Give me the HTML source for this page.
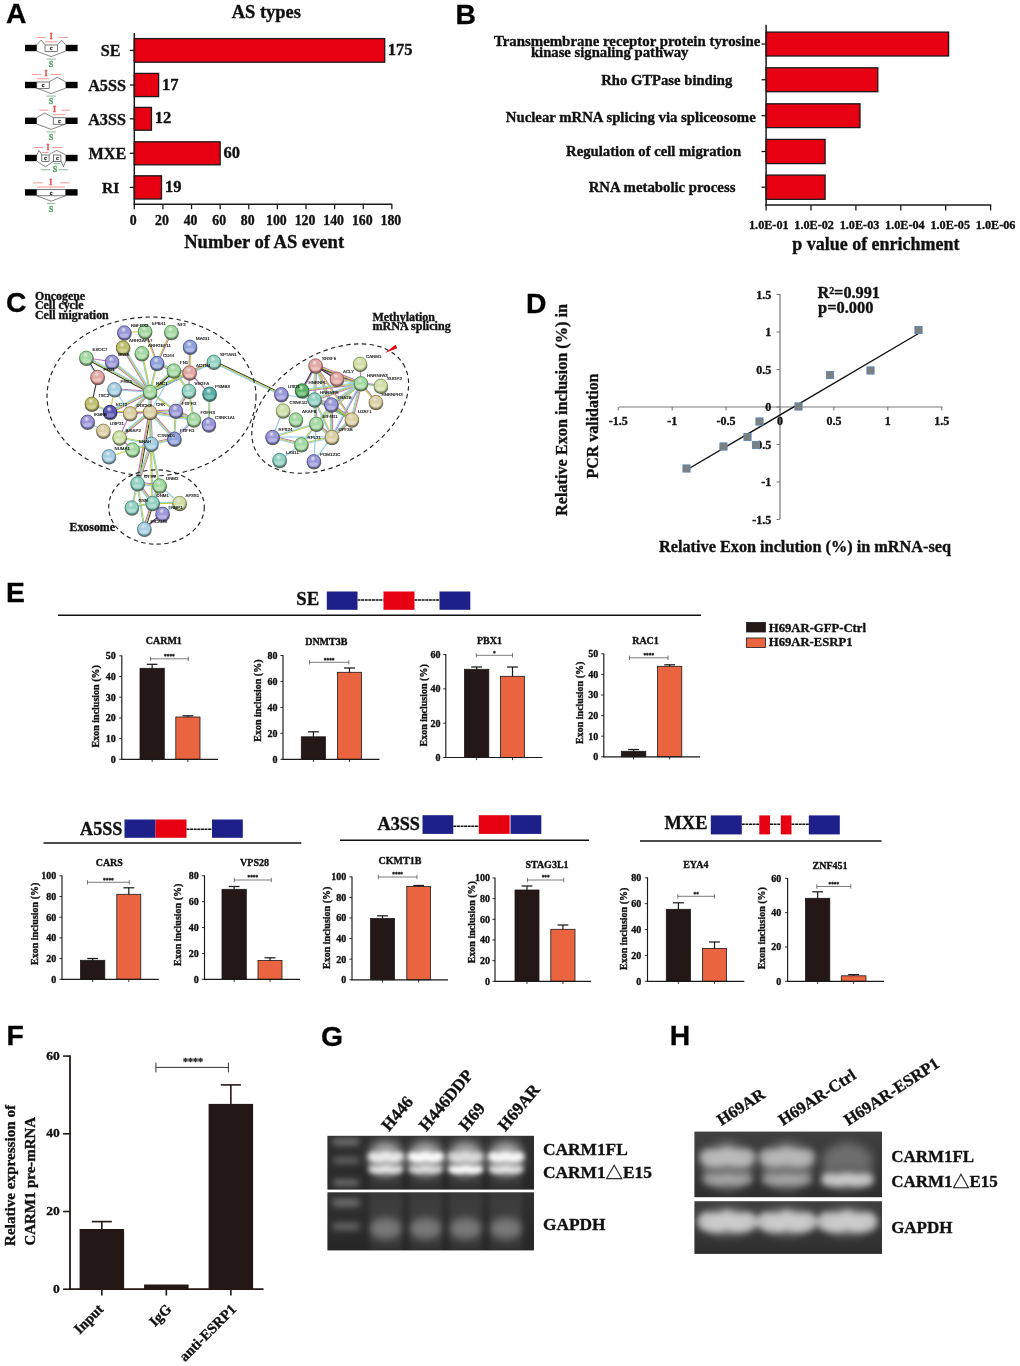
<!DOCTYPE html>
<html lang="en">
<head>
<meta charset="utf-8">
<title>Figure</title>
<style>
html,body{margin:0;padding:0;background:#fff;}
body{width:1020px;height:1366px;overflow:hidden;}
svg{display:block;}
.sb{font-family:"Liberation Serif",serif;font-weight:bold;fill:#111;stroke:#111;stroke-width:0.35px;stroke-linejoin:round;}
.pl{font-family:"Liberation Sans",sans-serif;font-weight:bold;fill:#000;stroke:#000;stroke-width:0.3px;}
.nl{font-family:"Liberation Sans",sans-serif;fill:#000;stroke:#000;stroke-width:0.12px;text-rendering:geometricPrecision;}
.tri{font-family:"Liberation Serif","Noto Sans CJK SC",serif;font-weight:normal;}
</style>
</head>
<body>
<svg width="1020" height="1366" viewBox="0 0 1020 1366">
<rect x="0" y="0" width="1020" height="1366" fill="#ffffff"/>
<text class="pl" x="6" y="23.4" font-size="28.3">A</text>
<text class="pl" x="455.4" y="23.5" font-size="28.3">B</text>
<text class="pl" x="6" y="312.4" font-size="28.3">C</text>
<text class="pl" x="526" y="312.5" font-size="28.3">D</text>
<text class="pl" x="6" y="601.6" font-size="28.3">E</text>
<text class="pl" x="6.6" y="1045.1" font-size="28.3">F</text>
<text class="pl" x="321" y="1045.6" font-size="28.3">G</text>
<text class="pl" x="669.8" y="1045.3" font-size="28.3">H</text>
<g id="panelA">
<text class="sb" x="231.8" y="17.6" font-size="18.43">AS types</text>
<rect x="134.3" y="38.6" width="250.4" height="23.6" fill="#e60012" stroke="#1a1a1a" stroke-width="1.3"/>
<line x1="129.8" y1="50.4" x2="134.3" y2="50.4" stroke="#1a1a1a" stroke-width="1.3"/>
<text class="sb" x="100.7" y="56.1" font-size="16.16">SE</text>
<text class="sb" x="387.8" y="55" font-size="16.5">175</text>
<rect x="134.3" y="73.4" width="24.32" height="23.2" fill="#e60012" stroke="#1a1a1a" stroke-width="1.3"/>
<line x1="129.8" y1="85" x2="134.3" y2="85" stroke="#1a1a1a" stroke-width="1.3"/>
<text class="sb" x="88.2" y="90.7" font-size="16.15">A5SS</text>
<text class="sb" x="162.02" y="89.6" font-size="16.5">17</text>
<rect x="134.3" y="107.4" width="17.17" height="22.8" fill="#e60012" stroke="#1a1a1a" stroke-width="1.3"/>
<line x1="129.8" y1="118.8" x2="134.3" y2="118.8" stroke="#1a1a1a" stroke-width="1.3"/>
<text class="sb" x="88.2" y="124.5" font-size="16.15">A3SS</text>
<text class="sb" x="154.87" y="123.4" font-size="16.5">12</text>
<rect x="134.3" y="141.8" width="85.85" height="23" fill="#e60012" stroke="#1a1a1a" stroke-width="1.3"/>
<line x1="129.8" y1="153.3" x2="134.3" y2="153.3" stroke="#1a1a1a" stroke-width="1.3"/>
<text class="sb" x="88.4" y="159" font-size="16.23">MXE</text>
<text class="sb" x="223.55" y="157.9" font-size="16.5">60</text>
<rect x="134.3" y="175.8" width="27.19" height="23.2" fill="#e60012" stroke="#1a1a1a" stroke-width="1.3"/>
<line x1="129.8" y1="187.4" x2="134.3" y2="187.4" stroke="#1a1a1a" stroke-width="1.3"/>
<text class="sb" x="102" y="193.1" font-size="15.5">RI</text>
<text class="sb" x="164.89" y="192" font-size="16.5">19</text>
<line x1="134.3" y1="33" x2="134.3" y2="204.9" stroke="#1a1a1a" stroke-width="1.5"/>
<line x1="133.6" y1="204.2" x2="392.2" y2="204.2" stroke="#1a1a1a" stroke-width="1.5"/>
<line x1="134.3" y1="204.2" x2="134.3" y2="209.2" stroke="#1a1a1a" stroke-width="1.3"/>
<text class="sb" x="133.3" y="225" font-size="13.8" text-anchor="middle">0</text>
<line x1="162.92" y1="204.2" x2="162.92" y2="209.2" stroke="#1a1a1a" stroke-width="1.3"/>
<text class="sb" x="161.92" y="225" font-size="13.8" text-anchor="middle">20</text>
<line x1="191.53" y1="204.2" x2="191.53" y2="209.2" stroke="#1a1a1a" stroke-width="1.3"/>
<text class="sb" x="190.53" y="225" font-size="13.8" text-anchor="middle">40</text>
<line x1="220.15" y1="204.2" x2="220.15" y2="209.2" stroke="#1a1a1a" stroke-width="1.3"/>
<text class="sb" x="219.15" y="225" font-size="13.8" text-anchor="middle">60</text>
<line x1="248.77" y1="204.2" x2="248.77" y2="209.2" stroke="#1a1a1a" stroke-width="1.3"/>
<text class="sb" x="247.77" y="225" font-size="13.8" text-anchor="middle">80</text>
<line x1="277.39" y1="204.2" x2="277.39" y2="209.2" stroke="#1a1a1a" stroke-width="1.3"/>
<text class="sb" x="276.39" y="225" font-size="13.8" text-anchor="middle">100</text>
<line x1="306" y1="204.2" x2="306" y2="209.2" stroke="#1a1a1a" stroke-width="1.3"/>
<text class="sb" x="305" y="225" font-size="13.8" text-anchor="middle">120</text>
<line x1="334.62" y1="204.2" x2="334.62" y2="209.2" stroke="#1a1a1a" stroke-width="1.3"/>
<text class="sb" x="333.62" y="225" font-size="13.8" text-anchor="middle">140</text>
<line x1="363.24" y1="204.2" x2="363.24" y2="209.2" stroke="#1a1a1a" stroke-width="1.3"/>
<text class="sb" x="362.24" y="225" font-size="13.8" text-anchor="middle">160</text>
<line x1="391.85" y1="204.2" x2="391.85" y2="209.2" stroke="#1a1a1a" stroke-width="1.3"/>
<text class="sb" x="390.85" y="225" font-size="13.8" text-anchor="middle">180</text>
<text class="sb" x="184.2" y="247.6" font-size="18.56">Number of AS event</text>
<rect x="25" y="44.8" width="11.8" height="6.4" fill="#000"/>
<rect x="65.6" y="44.8" width="12" height="6.4" fill="#000"/>
<path d="M36.8 44.8 L41.1 40.2 L45 44.8 M57.4 44.8 L61.6 40.2 L65.6 44.8" fill="none" stroke="#333" stroke-width="0.6"/>
<path d="M36.8 51.2 L51.2 56.6 L65.6 51.2" fill="none" stroke="#333" stroke-width="0.6"/>
<rect x="45" y="45" width="12.4" height="6.6" fill="#fff" stroke="#222" stroke-width="0.6"/>
<text class="sb" x="51.2" y="50.2" font-size="6" text-anchor="middle" style="fill:#333;stroke:#333">c</text>
<line x1="36.5" y1="37.4" x2="45.8" y2="37.4" stroke="#e8524a" stroke-width="0.6"/>
<line x1="58.6" y1="37.4" x2="68.2" y2="37.4" stroke="#e8524a" stroke-width="0.6"/>
<line x1="45" y1="41.8" x2="57.4" y2="41.8" stroke="#e8524a" stroke-width="0.6"/>
<text class="sb" x="51.2" y="39.4" font-size="7.8" text-anchor="middle" style="fill:#e8524a;stroke:#e8524a">I</text>
<line x1="46.5" y1="59.1" x2="55.9" y2="59.1" stroke="#4aa564" stroke-width="0.7"/>
<text class="sb" x="51.2" y="67.4" font-size="7.5" text-anchor="middle" style="fill:#4aa564;stroke:#4aa564">S</text>
<rect x="25" y="81.8" width="11.8" height="6.4" fill="#000"/>
<rect x="65.6" y="81.8" width="12" height="6.4" fill="#000"/>
<path d="M49.2 81.8 L57.2 77.2 L65.6 81.8" fill="none" stroke="#333" stroke-width="0.6"/>
<path d="M36.8 88.2 L51.2 93.6 L65.6 88.2" fill="none" stroke="#333" stroke-width="0.6"/>
<rect x="36.8" y="82" width="12.4" height="6.4" fill="#fff" stroke="#222" stroke-width="0.6"/>
<text class="sb" x="43" y="87.2" font-size="6" text-anchor="middle" style="fill:#333;stroke:#333">c</text>
<line x1="31.8" y1="74.4" x2="41" y2="74.4" stroke="#e8524a" stroke-width="0.6"/>
<line x1="50.8" y1="74.4" x2="60.6" y2="74.4" stroke="#e8524a" stroke-width="0.6"/>
<line x1="36.8" y1="78.8" x2="49.2" y2="78.8" stroke="#e8524a" stroke-width="0.6"/>
<text class="sb" x="46" y="76.4" font-size="7.8" text-anchor="middle" style="fill:#e8524a;stroke:#e8524a">I</text>
<line x1="46.5" y1="96.1" x2="55.9" y2="96.1" stroke="#4aa564" stroke-width="0.7"/>
<text class="sb" x="51.2" y="104.4" font-size="7.5" text-anchor="middle" style="fill:#4aa564;stroke:#4aa564">S</text>
<rect x="25" y="117.6" width="11.8" height="6.4" fill="#000"/>
<rect x="65.6" y="117.6" width="12" height="6.4" fill="#000"/>
<path d="M36.8 117.6 L44.8 113 L53.2 117.6" fill="none" stroke="#333" stroke-width="0.6"/>
<path d="M36.8 124 L51.2 129.4 L65.6 124" fill="none" stroke="#333" stroke-width="0.6"/>
<rect x="53.2" y="117.8" width="12.4" height="6.4" fill="#fff" stroke="#222" stroke-width="0.6"/>
<text class="sb" x="59.4" y="123" font-size="6" text-anchor="middle" style="fill:#333;stroke:#333">c</text>
<line x1="39.4" y1="110.2" x2="48.6" y2="110.2" stroke="#e8524a" stroke-width="0.6"/>
<line x1="61.2" y1="110.2" x2="70.4" y2="110.2" stroke="#e8524a" stroke-width="0.6"/>
<line x1="53.2" y1="114.6" x2="65.6" y2="114.6" stroke="#e8524a" stroke-width="0.6"/>
<text class="sb" x="54.6" y="112.2" font-size="7.8" text-anchor="middle" style="fill:#e8524a;stroke:#e8524a">I</text>
<line x1="46.5" y1="131.9" x2="55.9" y2="131.9" stroke="#4aa564" stroke-width="0.7"/>
<text class="sb" x="51.2" y="140.2" font-size="7.5" text-anchor="middle" style="fill:#4aa564;stroke:#4aa564">S</text>
<rect x="25" y="154.8" width="11.8" height="6.4" fill="#000"/>
<rect x="65.6" y="154.8" width="12" height="6.4" fill="#000"/>
<path d="M36.8 154.8 L39.1 150.5 L41.8 154.8 M49.1 154.5 L56.8 150.3 L65.6 154.8" fill="none" stroke="#333" stroke-width="0.6"/>
<path d="M36.8 161.2 L45.4 166.8 L53.6 161.2 M60.9 161.2 L63.5 166.6 L65.6 160.9" fill="none" stroke="#333" stroke-width="0.6"/>
<rect x="41.8" y="155" width="7.3" height="6.4" fill="#fff" stroke="#222" stroke-width="0.6"/>
<rect x="53.6" y="155" width="7.3" height="6.4" fill="#fff" stroke="#222" stroke-width="0.6"/>
<text class="sb" x="45.45" y="160.2" font-size="6" text-anchor="middle" style="fill:#333;stroke:#333">c</text>
<text class="sb" x="57.25" y="160.2" font-size="6" text-anchor="middle" style="fill:#333;stroke:#333">c</text>
<line x1="33.6" y1="147.5" x2="43.2" y2="147.5" stroke="#e8524a" stroke-width="0.6"/>
<line x1="52.6" y1="147.5" x2="62.3" y2="147.5" stroke="#e8524a" stroke-width="0.6"/>
<line x1="42.2" y1="152.5" x2="48.6" y2="152.5" stroke="#e8524a" stroke-width="0.6"/>
<text class="sb" x="47.9" y="149.9" font-size="7.6" text-anchor="middle" style="fill:#e8524a;stroke:#e8524a">I</text>
<line x1="53.6" y1="163.7" x2="60.4" y2="163.7" stroke="#4aa564" stroke-width="0.7"/>
<line x1="40.6" y1="169.8" x2="50" y2="169.8" stroke="#4aa564" stroke-width="0.7"/>
<line x1="58.5" y1="169.8" x2="68.2" y2="169.8" stroke="#4aa564" stroke-width="0.7"/>
<text class="sb" x="55" y="172" font-size="7.5" text-anchor="middle" style="fill:#4aa564;stroke:#4aa564">S</text>
<rect x="25" y="189.2" width="11.8" height="6.4" fill="#000"/>
<rect x="65.6" y="189.2" width="12" height="6.4" fill="#000"/>
<rect x="36.8" y="189.4" width="28.8" height="6.4" fill="#fff" stroke="#222" stroke-width="0.6"/>
<path d="M36.8 195.8 L51.2 201.2 L65.6 195.8" fill="none" stroke="#333" stroke-width="0.6"/>
<text class="sb" x="51.2" y="194.6" font-size="6" text-anchor="middle" style="fill:#333;stroke:#333">c</text>
<line x1="33.2" y1="182.8" x2="42.4" y2="182.8" stroke="#e8524a" stroke-width="0.6"/>
<line x1="60.2" y1="182.8" x2="69.8" y2="182.8" stroke="#e8524a" stroke-width="0.6"/>
<line x1="37.4" y1="187" x2="65.2" y2="187" stroke="#e8524a" stroke-width="0.6"/>
<text class="sb" x="50.8" y="185" font-size="7.8" text-anchor="middle" style="fill:#e8524a;stroke:#e8524a">I</text>
<line x1="47.2" y1="203.6" x2="55.2" y2="203.6" stroke="#4aa564" stroke-width="0.7"/>
<text class="sb" x="51.2" y="211.6" font-size="7.5" text-anchor="middle" style="fill:#4aa564;stroke:#4aa564">S</text>
</g>
<g id="panelB">
<rect x="766.1" y="32.1" width="182.5" height="23.9" fill="#e60012" stroke="#1a1a1a" stroke-width="1.3"/>
<line x1="761.5" y1="44.05" x2="766.1" y2="44.05" stroke="#1a1a1a" stroke-width="1.3"/>
<rect x="766.1" y="67.8" width="111.7" height="23.9" fill="#e60012" stroke="#1a1a1a" stroke-width="1.3"/>
<line x1="761.5" y1="79.75" x2="766.1" y2="79.75" stroke="#1a1a1a" stroke-width="1.3"/>
<rect x="766.1" y="103.8" width="93.9" height="23.8" fill="#e60012" stroke="#1a1a1a" stroke-width="1.3"/>
<line x1="761.5" y1="115.7" x2="766.1" y2="115.7" stroke="#1a1a1a" stroke-width="1.3"/>
<rect x="766.1" y="139.4" width="59" height="24.2" fill="#e60012" stroke="#1a1a1a" stroke-width="1.3"/>
<line x1="761.5" y1="151.5" x2="766.1" y2="151.5" stroke="#1a1a1a" stroke-width="1.3"/>
<rect x="766.1" y="175.1" width="59" height="24.2" fill="#e60012" stroke="#1a1a1a" stroke-width="1.3"/>
<line x1="761.5" y1="187.2" x2="766.1" y2="187.2" stroke="#1a1a1a" stroke-width="1.3"/>
<line x1="766.1" y1="24.7" x2="766.1" y2="205.7" stroke="#1a1a1a" stroke-width="1.5"/>
<line x1="765.4" y1="205" x2="991.2" y2="205" stroke="#1a1a1a" stroke-width="1.5"/>
<line x1="766.1" y1="205" x2="766.1" y2="210.4" stroke="#1a1a1a" stroke-width="1.3"/>
<text class="sb" x="768.8" y="229" font-size="12.2" text-anchor="middle">1.0E-01</text>
<line x1="811" y1="205" x2="811" y2="210.4" stroke="#1a1a1a" stroke-width="1.3"/>
<text class="sb" x="814.16" y="229" font-size="12.2" text-anchor="middle">1.0E-02</text>
<line x1="855.9" y1="205" x2="855.9" y2="210.4" stroke="#1a1a1a" stroke-width="1.3"/>
<text class="sb" x="859.52" y="229" font-size="12.2" text-anchor="middle">1.0E-03</text>
<line x1="900.8" y1="205" x2="900.8" y2="210.4" stroke="#1a1a1a" stroke-width="1.3"/>
<text class="sb" x="904.88" y="229" font-size="12.2" text-anchor="middle">1.0E-04</text>
<line x1="945.7" y1="205" x2="945.7" y2="210.4" stroke="#1a1a1a" stroke-width="1.3"/>
<text class="sb" x="950.24" y="229" font-size="12.2" text-anchor="middle">1.0E-05</text>
<line x1="990.6" y1="205" x2="990.6" y2="210.4" stroke="#1a1a1a" stroke-width="1.3"/>
<text class="sb" x="995.6" y="229" font-size="12.2" text-anchor="middle">1.0E-06</text>
<text class="sb" x="792.2" y="250" font-size="17.99">p value of enrichment</text>
<text class="sb" x="493.9" y="45.5" font-size="14.87">Transmembrane receptor protein tyrosine</text>
<text class="sb" x="530.9" y="56.5" font-size="14.69">kinase signaling pathway</text>
<text class="sb" x="601.2" y="85.3" font-size="14.67">Rho GTPase binding</text>
<text class="sb" x="505.8" y="121.7" font-size="14.78">Nuclear mRNA splicing via spliceosome</text>
<text class="sb" x="566.1" y="156.2" font-size="14.69">Regulation of cell migration</text>
<text class="sb" x="588.7" y="192.3" font-size="14.79">RNA metabolic process</text>
</g>
<g id="panelD">
<line x1="780" y1="294" x2="780" y2="519" stroke="#7a7a7a" stroke-width="1.2"/>
<line x1="619" y1="407" x2="942.5" y2="407" stroke="#7a7a7a" stroke-width="1.2"/>
<line x1="618.3" y1="407" x2="618.3" y2="410.5" stroke="#7a7a7a" stroke-width="1.1"/>
<line x1="776.5" y1="519.5" x2="780" y2="519.5" stroke="#7a7a7a" stroke-width="1.1"/>
<text class="sb" x="618.3" y="425.3" font-size="12" text-anchor="middle">-1.5</text>
<text class="sb" x="771.3" y="523.7" font-size="12" text-anchor="end">-1.5</text>
<line x1="672.2" y1="407" x2="672.2" y2="410.5" stroke="#7a7a7a" stroke-width="1.1"/>
<line x1="776.5" y1="482" x2="780" y2="482" stroke="#7a7a7a" stroke-width="1.1"/>
<text class="sb" x="672.2" y="425.3" font-size="12" text-anchor="middle">-1</text>
<text class="sb" x="771.3" y="486.2" font-size="12" text-anchor="end">-1</text>
<line x1="726.1" y1="407" x2="726.1" y2="410.5" stroke="#7a7a7a" stroke-width="1.1"/>
<line x1="776.5" y1="444.5" x2="780" y2="444.5" stroke="#7a7a7a" stroke-width="1.1"/>
<text class="sb" x="726.1" y="425.3" font-size="12" text-anchor="middle">-0.5</text>
<text class="sb" x="771.3" y="448.7" font-size="12" text-anchor="end">-0.5</text>
<line x1="780" y1="407" x2="780" y2="410.5" stroke="#7a7a7a" stroke-width="1.1"/>
<line x1="776.5" y1="407" x2="780" y2="407" stroke="#7a7a7a" stroke-width="1.1"/>
<text class="sb" x="780" y="425.3" font-size="12" text-anchor="middle">0</text>
<text class="sb" x="771.3" y="411.2" font-size="12" text-anchor="end">0</text>
<line x1="833.9" y1="407" x2="833.9" y2="410.5" stroke="#7a7a7a" stroke-width="1.1"/>
<line x1="776.5" y1="369.5" x2="780" y2="369.5" stroke="#7a7a7a" stroke-width="1.1"/>
<text class="sb" x="833.9" y="425.3" font-size="12" text-anchor="middle">0.5</text>
<text class="sb" x="771.3" y="373.7" font-size="12" text-anchor="end">0.5</text>
<line x1="887.8" y1="407" x2="887.8" y2="410.5" stroke="#7a7a7a" stroke-width="1.1"/>
<line x1="776.5" y1="332" x2="780" y2="332" stroke="#7a7a7a" stroke-width="1.1"/>
<text class="sb" x="887.8" y="425.3" font-size="12" text-anchor="middle">1</text>
<text class="sb" x="771.3" y="336.2" font-size="12" text-anchor="end">1</text>
<line x1="941.7" y1="407" x2="941.7" y2="410.5" stroke="#7a7a7a" stroke-width="1.1"/>
<line x1="776.5" y1="294.5" x2="780" y2="294.5" stroke="#7a7a7a" stroke-width="1.1"/>
<text class="sb" x="941.7" y="425.3" font-size="12" text-anchor="middle">1.5</text>
<text class="sb" x="771.3" y="298.7" font-size="12" text-anchor="end">1.5</text>
<line x1="686.5" y1="470" x2="918.5" y2="333.5" stroke="#111" stroke-width="1.4"/>
<rect x="682.9" y="464.9" width="7.2" height="7.2" fill="#7f7f7f" stroke="#5b87b8" stroke-width="0.9"/>
<rect x="719.9" y="442.9" width="7.2" height="7.2" fill="#7f7f7f" stroke="#5b87b8" stroke-width="0.9"/>
<rect x="743.9" y="433.4" width="7.2" height="7.2" fill="#7f7f7f" stroke="#5b87b8" stroke-width="0.9"/>
<rect x="752.4" y="441.4" width="7.2" height="7.2" fill="#7f7f7f" stroke="#5b87b8" stroke-width="0.9"/>
<rect x="755.9" y="417.9" width="7.2" height="7.2" fill="#7f7f7f" stroke="#5b87b8" stroke-width="0.9"/>
<rect x="794.9" y="402.9" width="7.2" height="7.2" fill="#7f7f7f" stroke="#5b87b8" stroke-width="0.9"/>
<rect x="826.4" y="371.4" width="7.2" height="7.2" fill="#7f7f7f" stroke="#5b87b8" stroke-width="0.9"/>
<rect x="866.9" y="366.9" width="7.2" height="7.2" fill="#7f7f7f" stroke="#5b87b8" stroke-width="0.9"/>
<rect x="914.9" y="326.4" width="7.2" height="7.2" fill="#7f7f7f" stroke="#5b87b8" stroke-width="0.9"/>
<text class="sb" x="817.5" y="297.6" font-size="16.28">R²=0.991</text>
<text class="sb" x="818" y="312.6" font-size="16.44">p=0.000</text>
<text class="sb" x="659" y="552.4" font-size="16.25">Relative Exon inclution (%) in mRNA-seq</text>
<text class="sb" x="567" y="410" font-size="16.24" text-anchor="middle" transform="rotate(-90 567 410)">Relative Exon inclusion (%) in</text>
<text class="sb" x="598" y="426" font-size="15.95" text-anchor="middle" transform="rotate(-90 598 426)">PCR validation</text>
</g>
<g id="panelE">
<text class="sb" x="296.3" y="604.5" font-size="18.78">SE</text>
<line x1="357.5" y1="600" x2="383.5" y2="600" stroke="#111" stroke-width="1.4" stroke-dasharray="3 0.6"/>
<line x1="414.5" y1="600" x2="439.5" y2="600" stroke="#111" stroke-width="1.4" stroke-dasharray="3 0.6"/>
<rect x="326.8" y="591.5" width="30.7" height="18.3" fill="#1d2088"/>
<rect x="383.5" y="591.5" width="31" height="18.3" fill="#e60012"/>
<rect x="439.5" y="591.5" width="30.8" height="18.3" fill="#1d2088"/>
<line x1="58" y1="615.3" x2="701" y2="615.3" stroke="#111" stroke-width="1.5"/>
<text class="sb" x="80" y="834.5" font-size="18.2">A5SS</text>
<line x1="186.5" y1="829.3" x2="212" y2="829.3" stroke="#111" stroke-width="1.4" stroke-dasharray="3 0.6"/>
<rect x="124.5" y="819.5" width="31" height="18.3" fill="#1d2088"/>
<rect x="155.5" y="819.5" width="31" height="18.3" fill="#e60012"/>
<rect x="212" y="819.5" width="30.8" height="18.3" fill="#1d2088"/>
<line x1="43.5" y1="843" x2="301.3" y2="843" stroke="#111" stroke-width="1.5"/>
<text class="sb" x="377.5" y="830" font-size="18.2">A3SS</text>
<line x1="453.3" y1="826.3" x2="478.8" y2="826.3" stroke="#111" stroke-width="1.4" stroke-dasharray="3 0.6"/>
<rect x="422.5" y="815.2" width="30.8" height="18.7" fill="#1d2088"/>
<rect x="478.8" y="815.2" width="30.9" height="18.7" fill="#e60012"/>
<rect x="510.5" y="815.2" width="30.8" height="18.7" fill="#1d2088"/>
<line x1="340" y1="840.3" x2="589" y2="840.3" stroke="#111" stroke-width="1.5"/>
<text class="sb" x="664.5" y="829.3" font-size="18.42">MXE</text>
<line x1="741.8" y1="824.3" x2="759.3" y2="824.3" stroke="#111" stroke-width="1.4" stroke-dasharray="3 0.6"/>
<line x1="770" y1="824.3" x2="780.8" y2="824.3" stroke="#111" stroke-width="1.4" stroke-dasharray="3 0.6"/>
<line x1="791.5" y1="824.3" x2="808.8" y2="824.3" stroke="#111" stroke-width="1.4" stroke-dasharray="3 0.6"/>
<rect x="710.8" y="815.4" width="31" height="19" fill="#1d2088"/>
<rect x="759.3" y="815.4" width="10.7" height="19" fill="#e60012"/>
<rect x="780.8" y="815.4" width="10.7" height="19" fill="#e60012"/>
<rect x="808.8" y="815.4" width="31" height="19" fill="#1d2088"/>
<line x1="640" y1="841" x2="881.5" y2="841" stroke="#111" stroke-width="1.5"/>
<text class="sb" x="163.8" y="644.3" font-size="10" text-anchor="middle">CARM1</text>
<line x1="152.15" y1="664.3" x2="152.15" y2="669.3" stroke="#1a1a1a" stroke-width="1.2"/>
<line x1="146.75" y1="664.3" x2="157.55" y2="664.3" stroke="#1a1a1a" stroke-width="1.25"/>
<rect x="140" y="668.3" width="24.3" height="91" fill="#231815" stroke="#1a1a1a" stroke-width="0.8"/>
<line x1="152.15" y1="759.3" x2="152.15" y2="761.9" stroke="#1a1a1a" stroke-width="0.9"/>
<line x1="187.9" y1="715.8" x2="187.9" y2="718" stroke="#1a1a1a" stroke-width="1.2"/>
<line x1="182.5" y1="715.8" x2="193.3" y2="715.8" stroke="#1a1a1a" stroke-width="1.25"/>
<rect x="175.8" y="717" width="24.2" height="42.3" fill="#e9643f" stroke="#1a1a1a" stroke-width="0.8"/>
<line x1="187.9" y1="759.3" x2="187.9" y2="761.9" stroke="#1a1a1a" stroke-width="0.9"/>
<line x1="121.8" y1="655.4" x2="121.8" y2="759.8" stroke="#1a1a1a" stroke-width="1.15"/>
<line x1="121.3" y1="759.3" x2="218" y2="759.3" stroke="#1a1a1a" stroke-width="1.15"/>
<line x1="119.2" y1="759.3" x2="121.8" y2="759.3" stroke="#1a1a1a" stroke-width="0.9"/>
<text class="sb" x="115.8" y="762.7" font-size="10" text-anchor="end">0</text>
<line x1="119.2" y1="738.6" x2="121.8" y2="738.6" stroke="#1a1a1a" stroke-width="0.9"/>
<text class="sb" x="115.8" y="742" font-size="10" text-anchor="end">10</text>
<line x1="119.2" y1="717.9" x2="121.8" y2="717.9" stroke="#1a1a1a" stroke-width="0.9"/>
<text class="sb" x="115.8" y="721.3" font-size="10" text-anchor="end">20</text>
<line x1="119.2" y1="697.2" x2="121.8" y2="697.2" stroke="#1a1a1a" stroke-width="0.9"/>
<text class="sb" x="115.8" y="700.6" font-size="10" text-anchor="end">30</text>
<line x1="119.2" y1="676.5" x2="121.8" y2="676.5" stroke="#1a1a1a" stroke-width="0.9"/>
<text class="sb" x="115.8" y="679.9" font-size="10" text-anchor="end">40</text>
<line x1="119.2" y1="655.8" x2="121.8" y2="655.8" stroke="#1a1a1a" stroke-width="0.9"/>
<text class="sb" x="115.8" y="659.2" font-size="10" text-anchor="end">50</text>
<line x1="150.5" y1="658.8" x2="188.3" y2="658.8" stroke="#444" stroke-width="0.7"/>
<line x1="150.5" y1="656.6" x2="150.5" y2="661" stroke="#444" stroke-width="0.7"/>
<line x1="188.3" y1="656.6" x2="188.3" y2="661" stroke="#444" stroke-width="0.7"/>
<text class="sb" x="169.4" y="658.1" font-size="5.3" text-anchor="middle" style="fill:#222;stroke:#222">****</text>
<text class="sb" x="99" y="706.3" font-size="10" text-anchor="middle" transform="rotate(-90 99 706.3)">Exon inclusion (%)</text>
<text class="sb" x="326.3" y="645" font-size="10" text-anchor="middle">DNMT3B</text>
<line x1="313.4" y1="731.8" x2="313.4" y2="737.8" stroke="#1a1a1a" stroke-width="1.2"/>
<line x1="308" y1="731.8" x2="318.8" y2="731.8" stroke="#1a1a1a" stroke-width="1.25"/>
<rect x="301.3" y="736.8" width="24.2" height="22.5" fill="#231815" stroke="#1a1a1a" stroke-width="0.8"/>
<line x1="313.4" y1="759.3" x2="313.4" y2="761.9" stroke="#1a1a1a" stroke-width="0.9"/>
<line x1="349.5" y1="668" x2="349.5" y2="673.3" stroke="#1a1a1a" stroke-width="1.2"/>
<line x1="344.1" y1="668" x2="354.9" y2="668" stroke="#1a1a1a" stroke-width="1.25"/>
<rect x="337.5" y="672.3" width="24" height="87" fill="#e9643f" stroke="#1a1a1a" stroke-width="0.8"/>
<line x1="349.5" y1="759.3" x2="349.5" y2="761.9" stroke="#1a1a1a" stroke-width="0.9"/>
<line x1="283" y1="655.1" x2="283" y2="759.8" stroke="#1a1a1a" stroke-width="1.15"/>
<line x1="282.5" y1="759.3" x2="379.5" y2="759.3" stroke="#1a1a1a" stroke-width="1.15"/>
<line x1="280.4" y1="759.3" x2="283" y2="759.3" stroke="#1a1a1a" stroke-width="0.9"/>
<text class="sb" x="277.5" y="762.7" font-size="10" text-anchor="end">0</text>
<line x1="280.4" y1="733.35" x2="283" y2="733.35" stroke="#1a1a1a" stroke-width="0.9"/>
<text class="sb" x="277.5" y="736.75" font-size="10" text-anchor="end">20</text>
<line x1="280.4" y1="707.4" x2="283" y2="707.4" stroke="#1a1a1a" stroke-width="0.9"/>
<text class="sb" x="277.5" y="710.8" font-size="10" text-anchor="end">40</text>
<line x1="280.4" y1="681.45" x2="283" y2="681.45" stroke="#1a1a1a" stroke-width="0.9"/>
<text class="sb" x="277.5" y="684.85" font-size="10" text-anchor="end">60</text>
<line x1="280.4" y1="655.5" x2="283" y2="655.5" stroke="#1a1a1a" stroke-width="0.9"/>
<text class="sb" x="277.5" y="658.9" font-size="10" text-anchor="end">80</text>
<line x1="309.5" y1="662.3" x2="348.8" y2="662.3" stroke="#444" stroke-width="0.7"/>
<line x1="309.5" y1="660.1" x2="309.5" y2="664.5" stroke="#444" stroke-width="0.7"/>
<line x1="348.8" y1="660.1" x2="348.8" y2="664.5" stroke="#444" stroke-width="0.7"/>
<text class="sb" x="329.15" y="661.6" font-size="5.3" text-anchor="middle" style="fill:#222;stroke:#222">****</text>
<text class="sb" x="261.5" y="700.6" font-size="10" text-anchor="middle" transform="rotate(-90 261.5 700.6)">Exon inclusion (%)</text>
<text class="sb" x="489.5" y="644.3" font-size="10" text-anchor="middle">PBX1</text>
<line x1="476.65" y1="667" x2="476.65" y2="670.3" stroke="#1a1a1a" stroke-width="1.2"/>
<line x1="471.25" y1="667" x2="482.05" y2="667" stroke="#1a1a1a" stroke-width="1.25"/>
<rect x="464.5" y="669.3" width="24.3" height="88.2" fill="#231815" stroke="#1a1a1a" stroke-width="0.8"/>
<line x1="476.65" y1="757.5" x2="476.65" y2="760.1" stroke="#1a1a1a" stroke-width="0.9"/>
<line x1="512.5" y1="667" x2="512.5" y2="677.3" stroke="#1a1a1a" stroke-width="1.2"/>
<line x1="507.1" y1="667" x2="517.9" y2="667" stroke="#1a1a1a" stroke-width="1.25"/>
<rect x="500.5" y="676.3" width="24" height="81.2" fill="#e9643f" stroke="#1a1a1a" stroke-width="0.8"/>
<line x1="512.5" y1="757.5" x2="512.5" y2="760.1" stroke="#1a1a1a" stroke-width="0.9"/>
<line x1="445.8" y1="654.1" x2="445.8" y2="758" stroke="#1a1a1a" stroke-width="1.15"/>
<line x1="445.3" y1="757.5" x2="542.5" y2="757.5" stroke="#1a1a1a" stroke-width="1.15"/>
<line x1="443.2" y1="757.5" x2="445.8" y2="757.5" stroke="#1a1a1a" stroke-width="0.9"/>
<text class="sb" x="440.5" y="760.9" font-size="10" text-anchor="end">0</text>
<line x1="443.2" y1="723.17" x2="445.8" y2="723.17" stroke="#1a1a1a" stroke-width="0.9"/>
<text class="sb" x="440.5" y="726.57" font-size="10" text-anchor="end">20</text>
<line x1="443.2" y1="688.83" x2="445.8" y2="688.83" stroke="#1a1a1a" stroke-width="0.9"/>
<text class="sb" x="440.5" y="692.23" font-size="10" text-anchor="end">40</text>
<line x1="443.2" y1="654.5" x2="445.8" y2="654.5" stroke="#1a1a1a" stroke-width="0.9"/>
<text class="sb" x="440.5" y="657.9" font-size="10" text-anchor="end">60</text>
<line x1="476.3" y1="655.3" x2="512.5" y2="655.3" stroke="#444" stroke-width="0.7"/>
<line x1="476.3" y1="653.1" x2="476.3" y2="657.5" stroke="#444" stroke-width="0.7"/>
<line x1="512.5" y1="653.1" x2="512.5" y2="657.5" stroke="#444" stroke-width="0.7"/>
<text class="sb" x="494.4" y="654.6" font-size="5.3" text-anchor="middle" style="fill:#222;stroke:#222">*</text>
<text class="sb" x="426.8" y="705.4" font-size="10" text-anchor="middle" transform="rotate(-90 426.8 705.4)">Exon inclusion (%)</text>
<text class="sb" x="645.5" y="644.3" font-size="10" text-anchor="middle">RAC1</text>
<line x1="633.55" y1="749.5" x2="633.55" y2="752.3" stroke="#1a1a1a" stroke-width="1.2"/>
<line x1="628.15" y1="749.5" x2="638.95" y2="749.5" stroke="#1a1a1a" stroke-width="1.25"/>
<rect x="621.3" y="751.3" width="24.5" height="5.5" fill="#231815" stroke="#1a1a1a" stroke-width="0.8"/>
<line x1="633.55" y1="756.8" x2="633.55" y2="759.4" stroke="#1a1a1a" stroke-width="0.9"/>
<line x1="669.65" y1="664.8" x2="669.65" y2="667.3" stroke="#1a1a1a" stroke-width="1.2"/>
<line x1="664.25" y1="664.8" x2="675.05" y2="664.8" stroke="#1a1a1a" stroke-width="1.25"/>
<rect x="657.5" y="666.3" width="24.3" height="90.5" fill="#e9643f" stroke="#1a1a1a" stroke-width="0.8"/>
<line x1="669.65" y1="756.8" x2="669.65" y2="759.4" stroke="#1a1a1a" stroke-width="0.9"/>
<line x1="603.8" y1="653.4" x2="603.8" y2="757.3" stroke="#1a1a1a" stroke-width="1.15"/>
<line x1="603.3" y1="756.8" x2="700" y2="756.8" stroke="#1a1a1a" stroke-width="1.15"/>
<line x1="601.2" y1="756.8" x2="603.8" y2="756.8" stroke="#1a1a1a" stroke-width="0.9"/>
<text class="sb" x="598.3" y="760.2" font-size="10" text-anchor="end">0</text>
<line x1="601.2" y1="736.2" x2="603.8" y2="736.2" stroke="#1a1a1a" stroke-width="0.9"/>
<text class="sb" x="598.3" y="739.6" font-size="10" text-anchor="end">10</text>
<line x1="601.2" y1="715.6" x2="603.8" y2="715.6" stroke="#1a1a1a" stroke-width="0.9"/>
<text class="sb" x="598.3" y="719" font-size="10" text-anchor="end">20</text>
<line x1="601.2" y1="695" x2="603.8" y2="695" stroke="#1a1a1a" stroke-width="0.9"/>
<text class="sb" x="598.3" y="698.4" font-size="10" text-anchor="end">30</text>
<line x1="601.2" y1="674.4" x2="603.8" y2="674.4" stroke="#1a1a1a" stroke-width="0.9"/>
<text class="sb" x="598.3" y="677.8" font-size="10" text-anchor="end">40</text>
<line x1="601.2" y1="653.8" x2="603.8" y2="653.8" stroke="#1a1a1a" stroke-width="0.9"/>
<text class="sb" x="598.3" y="657.2" font-size="10" text-anchor="end">50</text>
<line x1="629.5" y1="657.8" x2="668" y2="657.8" stroke="#444" stroke-width="0.7"/>
<line x1="629.5" y1="655.6" x2="629.5" y2="660" stroke="#444" stroke-width="0.7"/>
<line x1="668" y1="655.6" x2="668" y2="660" stroke="#444" stroke-width="0.7"/>
<text class="sb" x="648.75" y="657.1" font-size="5.3" text-anchor="middle" style="fill:#222;stroke:#222">****</text>
<text class="sb" x="583.5" y="702.8" font-size="10" text-anchor="middle" transform="rotate(-90 583.5 702.8)">Exon inclusion (%)</text>
<text class="sb" x="109.3" y="866.3" font-size="10" text-anchor="middle">CARS</text>
<line x1="92.65" y1="958.5" x2="92.65" y2="961.3" stroke="#1a1a1a" stroke-width="1.2"/>
<line x1="87.25" y1="958.5" x2="98.05" y2="958.5" stroke="#1a1a1a" stroke-width="1.25"/>
<rect x="80.5" y="960.3" width="24.3" height="19" fill="#231815" stroke="#1a1a1a" stroke-width="0.8"/>
<line x1="92.65" y1="979.3" x2="92.65" y2="981.9" stroke="#1a1a1a" stroke-width="0.9"/>
<line x1="128.8" y1="887.8" x2="128.8" y2="895.3" stroke="#1a1a1a" stroke-width="1.2"/>
<line x1="123.4" y1="887.8" x2="134.2" y2="887.8" stroke="#1a1a1a" stroke-width="1.25"/>
<rect x="116.8" y="894.3" width="24" height="85" fill="#e9643f" stroke="#1a1a1a" stroke-width="0.8"/>
<line x1="128.8" y1="979.3" x2="128.8" y2="981.9" stroke="#1a1a1a" stroke-width="0.9"/>
<line x1="62" y1="875.4" x2="62" y2="979.8" stroke="#1a1a1a" stroke-width="1.15"/>
<line x1="61.5" y1="979.3" x2="158.8" y2="979.3" stroke="#1a1a1a" stroke-width="1.15"/>
<line x1="59.4" y1="979.3" x2="62" y2="979.3" stroke="#1a1a1a" stroke-width="0.9"/>
<text class="sb" x="56.3" y="982.7" font-size="10" text-anchor="end">0</text>
<line x1="59.4" y1="958.6" x2="62" y2="958.6" stroke="#1a1a1a" stroke-width="0.9"/>
<text class="sb" x="56.3" y="962" font-size="10" text-anchor="end">20</text>
<line x1="59.4" y1="937.9" x2="62" y2="937.9" stroke="#1a1a1a" stroke-width="0.9"/>
<text class="sb" x="56.3" y="941.3" font-size="10" text-anchor="end">40</text>
<line x1="59.4" y1="917.2" x2="62" y2="917.2" stroke="#1a1a1a" stroke-width="0.9"/>
<text class="sb" x="56.3" y="920.6" font-size="10" text-anchor="end">60</text>
<line x1="59.4" y1="896.5" x2="62" y2="896.5" stroke="#1a1a1a" stroke-width="0.9"/>
<text class="sb" x="56.3" y="899.9" font-size="10" text-anchor="end">80</text>
<line x1="59.4" y1="875.8" x2="62" y2="875.8" stroke="#1a1a1a" stroke-width="0.9"/>
<text class="sb" x="56.3" y="879.2" font-size="10" text-anchor="end">100</text>
<line x1="87.5" y1="882.3" x2="129.3" y2="882.3" stroke="#444" stroke-width="0.7"/>
<line x1="87.5" y1="880.1" x2="87.5" y2="884.5" stroke="#444" stroke-width="0.7"/>
<line x1="129.3" y1="880.1" x2="129.3" y2="884.5" stroke="#444" stroke-width="0.7"/>
<text class="sb" x="108.4" y="881.6" font-size="5.3" text-anchor="middle" style="fill:#222;stroke:#222">****</text>
<text class="sb" x="38.5" y="923.8" font-size="10" text-anchor="middle" transform="rotate(-90 38.5 923.8)">Exon inclusion (%)</text>
<text class="sb" x="254.5" y="865.8" font-size="10" text-anchor="middle">VPS28</text>
<line x1="234.15" y1="886.5" x2="234.15" y2="890.3" stroke="#1a1a1a" stroke-width="1.2"/>
<line x1="228.75" y1="886.5" x2="239.55" y2="886.5" stroke="#1a1a1a" stroke-width="1.25"/>
<rect x="222" y="889.3" width="24.3" height="90" fill="#231815" stroke="#1a1a1a" stroke-width="0.8"/>
<line x1="234.15" y1="979.3" x2="234.15" y2="981.9" stroke="#1a1a1a" stroke-width="0.9"/>
<line x1="270" y1="957.8" x2="270" y2="961.5" stroke="#1a1a1a" stroke-width="1.2"/>
<line x1="264.6" y1="957.8" x2="275.4" y2="957.8" stroke="#1a1a1a" stroke-width="1.25"/>
<rect x="258" y="960.5" width="24" height="18.8" fill="#e9643f" stroke="#1a1a1a" stroke-width="0.8"/>
<line x1="270" y1="979.3" x2="270" y2="981.9" stroke="#1a1a1a" stroke-width="0.9"/>
<line x1="204.5" y1="875.4" x2="204.5" y2="979.8" stroke="#1a1a1a" stroke-width="1.15"/>
<line x1="204" y1="979.3" x2="300" y2="979.3" stroke="#1a1a1a" stroke-width="1.15"/>
<line x1="201.9" y1="979.3" x2="204.5" y2="979.3" stroke="#1a1a1a" stroke-width="0.9"/>
<text class="sb" x="198.8" y="982.7" font-size="10" text-anchor="end">0</text>
<line x1="201.9" y1="953.42" x2="204.5" y2="953.42" stroke="#1a1a1a" stroke-width="0.9"/>
<text class="sb" x="198.8" y="956.82" font-size="10" text-anchor="end">20</text>
<line x1="201.9" y1="927.55" x2="204.5" y2="927.55" stroke="#1a1a1a" stroke-width="0.9"/>
<text class="sb" x="198.8" y="930.95" font-size="10" text-anchor="end">40</text>
<line x1="201.9" y1="901.67" x2="204.5" y2="901.67" stroke="#1a1a1a" stroke-width="0.9"/>
<text class="sb" x="198.8" y="905.07" font-size="10" text-anchor="end">60</text>
<line x1="201.9" y1="875.8" x2="204.5" y2="875.8" stroke="#1a1a1a" stroke-width="0.9"/>
<text class="sb" x="198.8" y="879.2" font-size="10" text-anchor="end">80</text>
<line x1="234.3" y1="880" x2="271.3" y2="880" stroke="#444" stroke-width="0.7"/>
<line x1="234.3" y1="877.8" x2="234.3" y2="882.2" stroke="#444" stroke-width="0.7"/>
<line x1="271.3" y1="877.8" x2="271.3" y2="882.2" stroke="#444" stroke-width="0.7"/>
<text class="sb" x="252.8" y="879.3" font-size="5.3" text-anchor="middle" style="fill:#222;stroke:#222">****</text>
<text class="sb" x="181" y="924.8" font-size="10" text-anchor="middle" transform="rotate(-90 181 924.8)">Exon inclusion (%)</text>
<text class="sb" x="400" y="864" font-size="10" text-anchor="middle">CKMT1B</text>
<line x1="382.5" y1="915.8" x2="382.5" y2="919.5" stroke="#1a1a1a" stroke-width="1.2"/>
<line x1="377.1" y1="915.8" x2="387.9" y2="915.8" stroke="#1a1a1a" stroke-width="1.25"/>
<rect x="370.5" y="918.5" width="24" height="61.3" fill="#231815" stroke="#1a1a1a" stroke-width="0.8"/>
<line x1="382.5" y1="979.8" x2="382.5" y2="982.4" stroke="#1a1a1a" stroke-width="0.9"/>
<line x1="418.65" y1="885.5" x2="418.65" y2="887.5" stroke="#1a1a1a" stroke-width="1.2"/>
<line x1="413.25" y1="885.5" x2="424.05" y2="885.5" stroke="#1a1a1a" stroke-width="1.25"/>
<rect x="406.8" y="886.5" width="23.7" height="93.3" fill="#e9643f" stroke="#1a1a1a" stroke-width="0.8"/>
<line x1="418.65" y1="979.8" x2="418.65" y2="982.4" stroke="#1a1a1a" stroke-width="0.9"/>
<line x1="352" y1="876.4" x2="352" y2="980.3" stroke="#1a1a1a" stroke-width="1.15"/>
<line x1="351.5" y1="979.8" x2="448" y2="979.8" stroke="#1a1a1a" stroke-width="1.15"/>
<line x1="349.4" y1="979.8" x2="352" y2="979.8" stroke="#1a1a1a" stroke-width="0.9"/>
<text class="sb" x="346.3" y="983.2" font-size="10" text-anchor="end">0</text>
<line x1="349.4" y1="959.2" x2="352" y2="959.2" stroke="#1a1a1a" stroke-width="0.9"/>
<text class="sb" x="346.3" y="962.6" font-size="10" text-anchor="end">20</text>
<line x1="349.4" y1="938.6" x2="352" y2="938.6" stroke="#1a1a1a" stroke-width="0.9"/>
<text class="sb" x="346.3" y="942" font-size="10" text-anchor="end">40</text>
<line x1="349.4" y1="918" x2="352" y2="918" stroke="#1a1a1a" stroke-width="0.9"/>
<text class="sb" x="346.3" y="921.4" font-size="10" text-anchor="end">60</text>
<line x1="349.4" y1="897.4" x2="352" y2="897.4" stroke="#1a1a1a" stroke-width="0.9"/>
<text class="sb" x="346.3" y="900.8" font-size="10" text-anchor="end">80</text>
<line x1="349.4" y1="876.8" x2="352" y2="876.8" stroke="#1a1a1a" stroke-width="0.9"/>
<text class="sb" x="346.3" y="880.2" font-size="10" text-anchor="end">100</text>
<line x1="378.3" y1="877" x2="417" y2="877" stroke="#444" stroke-width="0.7"/>
<line x1="378.3" y1="874.8" x2="378.3" y2="879.2" stroke="#444" stroke-width="0.7"/>
<line x1="417" y1="874.8" x2="417" y2="879.2" stroke="#444" stroke-width="0.7"/>
<text class="sb" x="397.65" y="876.3" font-size="5.3" text-anchor="middle" style="fill:#222;stroke:#222">****</text>
<text class="sb" x="329.8" y="927.8" font-size="10" text-anchor="middle" transform="rotate(-90 329.8 927.8)">Exon inclusion (%)</text>
<text class="sb" x="547" y="868" font-size="10" text-anchor="middle">STAG3L1</text>
<line x1="527" y1="886" x2="527" y2="891" stroke="#1a1a1a" stroke-width="1.2"/>
<line x1="521.6" y1="886" x2="532.4" y2="886" stroke="#1a1a1a" stroke-width="1.25"/>
<rect x="515" y="890" width="24" height="91.3" fill="#231815" stroke="#1a1a1a" stroke-width="0.8"/>
<line x1="527" y1="981.3" x2="527" y2="983.9" stroke="#1a1a1a" stroke-width="0.9"/>
<line x1="562.9" y1="925" x2="562.9" y2="930.3" stroke="#1a1a1a" stroke-width="1.2"/>
<line x1="557.5" y1="925" x2="568.3" y2="925" stroke="#1a1a1a" stroke-width="1.25"/>
<rect x="550.8" y="929.3" width="24.2" height="52" fill="#e9643f" stroke="#1a1a1a" stroke-width="0.8"/>
<line x1="562.9" y1="981.3" x2="562.9" y2="983.9" stroke="#1a1a1a" stroke-width="0.9"/>
<line x1="495" y1="877.6" x2="495" y2="981.8" stroke="#1a1a1a" stroke-width="1.15"/>
<line x1="494.5" y1="981.3" x2="591" y2="981.3" stroke="#1a1a1a" stroke-width="1.15"/>
<line x1="492.4" y1="981.3" x2="495" y2="981.3" stroke="#1a1a1a" stroke-width="0.9"/>
<text class="sb" x="490" y="984.7" font-size="10" text-anchor="end">0</text>
<line x1="492.4" y1="960.64" x2="495" y2="960.64" stroke="#1a1a1a" stroke-width="0.9"/>
<text class="sb" x="490" y="964.04" font-size="10" text-anchor="end">20</text>
<line x1="492.4" y1="939.98" x2="495" y2="939.98" stroke="#1a1a1a" stroke-width="0.9"/>
<text class="sb" x="490" y="943.38" font-size="10" text-anchor="end">40</text>
<line x1="492.4" y1="919.32" x2="495" y2="919.32" stroke="#1a1a1a" stroke-width="0.9"/>
<text class="sb" x="490" y="922.72" font-size="10" text-anchor="end">60</text>
<line x1="492.4" y1="898.66" x2="495" y2="898.66" stroke="#1a1a1a" stroke-width="0.9"/>
<text class="sb" x="490" y="902.06" font-size="10" text-anchor="end">80</text>
<line x1="492.4" y1="878" x2="495" y2="878" stroke="#1a1a1a" stroke-width="0.9"/>
<text class="sb" x="490" y="881.4" font-size="10" text-anchor="end">100</text>
<line x1="527.5" y1="880" x2="563.8" y2="880" stroke="#444" stroke-width="0.7"/>
<line x1="527.5" y1="877.8" x2="527.5" y2="882.2" stroke="#444" stroke-width="0.7"/>
<line x1="563.8" y1="877.8" x2="563.8" y2="882.2" stroke="#444" stroke-width="0.7"/>
<text class="sb" x="545.65" y="879.3" font-size="5.3" text-anchor="middle" style="fill:#222;stroke:#222">***</text>
<text class="sb" x="474.8" y="922.2" font-size="10" text-anchor="middle" transform="rotate(-90 474.8 922.2)">Exon inclusion (%)</text>
<text class="sb" x="695.8" y="867.5" font-size="10" text-anchor="middle">EYA4</text>
<line x1="678.4" y1="902.8" x2="678.4" y2="910.3" stroke="#1a1a1a" stroke-width="1.2"/>
<line x1="673" y1="902.8" x2="683.8" y2="902.8" stroke="#1a1a1a" stroke-width="1.25"/>
<rect x="666.3" y="909.3" width="24.2" height="72" fill="#231815" stroke="#1a1a1a" stroke-width="0.8"/>
<line x1="678.4" y1="981.3" x2="678.4" y2="983.9" stroke="#1a1a1a" stroke-width="0.9"/>
<line x1="714.5" y1="942" x2="714.5" y2="949.5" stroke="#1a1a1a" stroke-width="1.2"/>
<line x1="709.1" y1="942" x2="719.9" y2="942" stroke="#1a1a1a" stroke-width="1.25"/>
<rect x="702.5" y="948.5" width="24" height="32.8" fill="#e9643f" stroke="#1a1a1a" stroke-width="0.8"/>
<line x1="714.5" y1="981.3" x2="714.5" y2="983.9" stroke="#1a1a1a" stroke-width="0.9"/>
<line x1="647.5" y1="877.4" x2="647.5" y2="981.8" stroke="#1a1a1a" stroke-width="1.15"/>
<line x1="647" y1="981.3" x2="744.3" y2="981.3" stroke="#1a1a1a" stroke-width="1.15"/>
<line x1="644.9" y1="981.3" x2="647.5" y2="981.3" stroke="#1a1a1a" stroke-width="0.9"/>
<text class="sb" x="641.3" y="984.7" font-size="10" text-anchor="end">0</text>
<line x1="644.9" y1="955.42" x2="647.5" y2="955.42" stroke="#1a1a1a" stroke-width="0.9"/>
<text class="sb" x="641.3" y="958.82" font-size="10" text-anchor="end">20</text>
<line x1="644.9" y1="929.55" x2="647.5" y2="929.55" stroke="#1a1a1a" stroke-width="0.9"/>
<text class="sb" x="641.3" y="932.95" font-size="10" text-anchor="end">40</text>
<line x1="644.9" y1="903.67" x2="647.5" y2="903.67" stroke="#1a1a1a" stroke-width="0.9"/>
<text class="sb" x="641.3" y="907.07" font-size="10" text-anchor="end">60</text>
<line x1="644.9" y1="877.8" x2="647.5" y2="877.8" stroke="#1a1a1a" stroke-width="0.9"/>
<text class="sb" x="641.3" y="881.2" font-size="10" text-anchor="end">80</text>
<line x1="677.8" y1="896.3" x2="714.5" y2="896.3" stroke="#444" stroke-width="0.7"/>
<line x1="677.8" y1="894.1" x2="677.8" y2="898.5" stroke="#444" stroke-width="0.7"/>
<line x1="714.5" y1="894.1" x2="714.5" y2="898.5" stroke="#444" stroke-width="0.7"/>
<text class="sb" x="696.15" y="895.6" font-size="5.3" text-anchor="middle" style="fill:#222;stroke:#222">**</text>
<text class="sb" x="626.8" y="928.8" font-size="10" text-anchor="middle" transform="rotate(-90 626.8 928.8)">Exon inclusion (%)</text>
<text class="sb" x="830" y="868.8" font-size="10" text-anchor="middle">ZNF451</text>
<line x1="817.65" y1="891.8" x2="817.65" y2="899.3" stroke="#1a1a1a" stroke-width="1.2"/>
<line x1="812.25" y1="891.8" x2="823.05" y2="891.8" stroke="#1a1a1a" stroke-width="1.25"/>
<rect x="805.5" y="898.3" width="24.3" height="83" fill="#231815" stroke="#1a1a1a" stroke-width="0.8"/>
<line x1="817.65" y1="981.3" x2="817.65" y2="983.9" stroke="#1a1a1a" stroke-width="0.9"/>
<line x1="853.65" y1="974.6" x2="853.65" y2="976.8" stroke="#1a1a1a" stroke-width="1.2"/>
<line x1="848.25" y1="974.6" x2="859.05" y2="974.6" stroke="#1a1a1a" stroke-width="1.25"/>
<rect x="841.3" y="975.8" width="24.7" height="5.5" fill="#e9643f" stroke="#1a1a1a" stroke-width="0.8"/>
<line x1="853.65" y1="981.3" x2="853.65" y2="983.9" stroke="#1a1a1a" stroke-width="0.9"/>
<line x1="787.6" y1="877.9" x2="787.6" y2="981.8" stroke="#1a1a1a" stroke-width="1.15"/>
<line x1="787.1" y1="981.3" x2="884" y2="981.3" stroke="#1a1a1a" stroke-width="1.15"/>
<line x1="785" y1="981.3" x2="787.6" y2="981.3" stroke="#1a1a1a" stroke-width="0.9"/>
<text class="sb" x="781.3" y="984.7" font-size="10" text-anchor="end">0</text>
<line x1="785" y1="946.97" x2="787.6" y2="946.97" stroke="#1a1a1a" stroke-width="0.9"/>
<text class="sb" x="781.3" y="950.37" font-size="10" text-anchor="end">20</text>
<line x1="785" y1="912.63" x2="787.6" y2="912.63" stroke="#1a1a1a" stroke-width="0.9"/>
<text class="sb" x="781.3" y="916.03" font-size="10" text-anchor="end">40</text>
<line x1="785" y1="878.3" x2="787.6" y2="878.3" stroke="#1a1a1a" stroke-width="0.9"/>
<text class="sb" x="781.3" y="881.7" font-size="10" text-anchor="end">60</text>
<line x1="816.8" y1="886.5" x2="850.8" y2="886.5" stroke="#444" stroke-width="0.7"/>
<line x1="816.8" y1="884.3" x2="816.8" y2="888.7" stroke="#444" stroke-width="0.7"/>
<line x1="850.8" y1="884.3" x2="850.8" y2="888.7" stroke="#444" stroke-width="0.7"/>
<text class="sb" x="833.8" y="885.8" font-size="5.3" text-anchor="middle" style="fill:#222;stroke:#222">****</text>
<text class="sb" x="765.5" y="928.2" font-size="10" text-anchor="middle" transform="rotate(-90 765.5 928.2)">Exon inclusion (%)</text>
<rect x="746.5" y="622.5" width="19" height="9.5" fill="#231815" stroke="#1a1a1a" stroke-width="0.8"/>
<rect x="746.5" y="638" width="19" height="9.5" fill="#e9643f" stroke="#1a1a1a" stroke-width="0.8"/>
<text class="sb" x="768.8" y="631.8" font-size="12.68">H69AR-GFP-Ctrl</text>
<text class="sb" x="768.8" y="646.3" font-size="12.66">H69AR-ESRP1</text>
</g>
<g id="panelF">
<line x1="101.85" y1="1221.6" x2="101.85" y2="1230" stroke="#231815" stroke-width="1.6"/>
<line x1="91.85" y1="1221.6" x2="111.85" y2="1221.6" stroke="#231815" stroke-width="1.6"/>
<rect x="79.6" y="1229" width="44.5" height="60.2" fill="#231815"/>
<line x1="101.85" y1="1289.2" x2="101.85" y2="1295.5" stroke="#231815" stroke-width="1.6"/>
<rect x="144.1" y="1284.5" width="44.5" height="4.7" fill="#231815"/>
<line x1="166.35" y1="1289.2" x2="166.35" y2="1295.5" stroke="#231815" stroke-width="1.6"/>
<line x1="230.85" y1="1084.9" x2="230.85" y2="1104.9" stroke="#231815" stroke-width="1.6"/>
<line x1="220.85" y1="1084.9" x2="240.85" y2="1084.9" stroke="#231815" stroke-width="1.6"/>
<rect x="208.6" y="1103.9" width="44.5" height="185.3" fill="#231815"/>
<line x1="230.85" y1="1289.2" x2="230.85" y2="1295.5" stroke="#231815" stroke-width="1.6"/>
<line x1="70" y1="1055.3" x2="70" y2="1290.1" stroke="#231815" stroke-width="1.8"/>
<line x1="69.1" y1="1289.2" x2="263.5" y2="1289.2" stroke="#231815" stroke-width="1.8"/>
<line x1="63.1" y1="1289.2" x2="70" y2="1289.2" stroke="#231815" stroke-width="1.6"/>
<text class="sb" x="59.8" y="1292.8" font-size="13.5" text-anchor="end">0</text>
<line x1="63.1" y1="1211.5" x2="70" y2="1211.5" stroke="#231815" stroke-width="1.6"/>
<text class="sb" x="59.8" y="1215.1" font-size="13.5" text-anchor="end">20</text>
<line x1="63.1" y1="1133.8" x2="70" y2="1133.8" stroke="#231815" stroke-width="1.6"/>
<text class="sb" x="59.8" y="1137.4" font-size="13.5" text-anchor="end">40</text>
<line x1="63.1" y1="1056.1" x2="70" y2="1056.1" stroke="#231815" stroke-width="1.6"/>
<text class="sb" x="59.8" y="1059.7" font-size="13.5" text-anchor="end">60</text>
<line x1="155.9" y1="1067.4" x2="228.4" y2="1067.4" stroke="#333" stroke-width="1"/>
<line x1="155.9" y1="1062.6" x2="155.9" y2="1072.4" stroke="#333" stroke-width="1"/>
<line x1="228.4" y1="1062.6" x2="228.4" y2="1072.4" stroke="#333" stroke-width="1"/>
<text class="sb" x="193" y="1065.2" font-size="10" text-anchor="middle" style="fill:#222;stroke:#222">****</text>
<text class="sb" x="104.3" y="1310" font-size="14.6" text-anchor="end" transform="rotate(-45 104.3 1310)">Input</text>
<text class="sb" x="172.3" y="1310" font-size="14.6" text-anchor="end" transform="rotate(-45 172.3 1310)">IgG</text>
<text class="sb" x="237.2" y="1310" font-size="14.6" text-anchor="end" transform="rotate(-45 237.2 1310)">anti-ESRP1</text>
<text class="sb" x="14.6" y="1175.4" font-size="15.15" text-anchor="middle" transform="rotate(-90 14.6 1175.4)">Relative expression of</text>
<text class="sb" x="34.6" y="1181.3" font-size="14.91" text-anchor="middle" transform="rotate(-90 34.6 1181.3)">CARM1 pre-mRNA</text>
</g>
<g id="panelC">
<defs>
<radialGradient id="ng_pu" cx="0.5" cy="0.42" r="0.62" fx="0.42" fy="0.26"><stop offset="0" stop-color="#ffffff" stop-opacity="0.85"/><stop offset="0.32" stop-color="#9a98d8"/><stop offset="0.72" stop-color="#9a98d8"/><stop offset="1" stop-color="#5c5a9c"/></radialGradient>
<radialGradient id="ng_gr" cx="0.5" cy="0.42" r="0.62" fx="0.42" fy="0.26"><stop offset="0" stop-color="#ffffff" stop-opacity="0.85"/><stop offset="0.32" stop-color="#a5d9a3"/><stop offset="0.72" stop-color="#a5d9a3"/><stop offset="1" stop-color="#5f9a5e"/></radialGradient>
<radialGradient id="ng_te" cx="0.5" cy="0.42" r="0.62" fx="0.42" fy="0.26"><stop offset="0" stop-color="#ffffff" stop-opacity="0.85"/><stop offset="0.32" stop-color="#92d2c3"/><stop offset="0.72" stop-color="#92d2c3"/><stop offset="1" stop-color="#4f8f82"/></radialGradient>
<radialGradient id="ng_lb" cx="0.5" cy="0.42" r="0.62" fx="0.42" fy="0.26"><stop offset="0" stop-color="#ffffff" stop-opacity="0.85"/><stop offset="0.32" stop-color="#a6cfe4"/><stop offset="0.72" stop-color="#a6cfe4"/><stop offset="1" stop-color="#5f8ba0"/></radialGradient>
<radialGradient id="ng_pk" cx="0.5" cy="0.42" r="0.62" fx="0.42" fy="0.26"><stop offset="0" stop-color="#ffffff" stop-opacity="0.85"/><stop offset="0.32" stop-color="#e3a9a6"/><stop offset="0.72" stop-color="#e3a9a6"/><stop offset="1" stop-color="#a56360"/></radialGradient>
<radialGradient id="ng_ol" cx="0.5" cy="0.42" r="0.62" fx="0.42" fy="0.26"><stop offset="0" stop-color="#ffffff" stop-opacity="0.85"/><stop offset="0.32" stop-color="#bfc06c"/><stop offset="0.72" stop-color="#bfc06c"/><stop offset="1" stop-color="#7c7d36"/></radialGradient>
<radialGradient id="ng_ta" cx="0.5" cy="0.42" r="0.62" fx="0.42" fy="0.26"><stop offset="0" stop-color="#ffffff" stop-opacity="0.85"/><stop offset="0.32" stop-color="#dccfa4"/><stop offset="0.72" stop-color="#dccfa4"/><stop offset="1" stop-color="#97895c"/></radialGradient>
<radialGradient id="ng_yg" cx="0.5" cy="0.42" r="0.62" fx="0.42" fy="0.26"><stop offset="0" stop-color="#ffffff" stop-opacity="0.85"/><stop offset="0.32" stop-color="#cfe0a6"/><stop offset="0.72" stop-color="#cfe0a6"/><stop offset="1" stop-color="#8b9c60"/></radialGradient>
<radialGradient id="ng_db" cx="0.5" cy="0.42" r="0.62" fx="0.42" fy="0.26"><stop offset="0" stop-color="#ffffff" stop-opacity="0.85"/><stop offset="0.32" stop-color="#5a58b4"/><stop offset="0.72" stop-color="#5a58b4"/><stop offset="1" stop-color="#2f2d78"/></radialGradient>
<radialGradient id="ng_dg" cx="0.5" cy="0.42" r="0.62" fx="0.42" fy="0.26"><stop offset="0" stop-color="#ffffff" stop-opacity="0.85"/><stop offset="0.32" stop-color="#5cb468"/><stop offset="0.72" stop-color="#5cb468"/><stop offset="1" stop-color="#2f7a3a"/></radialGradient>
<radialGradient id="ng_dt" cx="0.5" cy="0.42" r="0.62" fx="0.42" fy="0.26"><stop offset="0" stop-color="#ffffff" stop-opacity="0.85"/><stop offset="0.32" stop-color="#58b0a8"/><stop offset="0.72" stop-color="#58b0a8"/><stop offset="1" stop-color="#2c7670"/></radialGradient>
<radialGradient id="ng_bl" cx="0.5" cy="0.42" r="0.62" fx="0.42" fy="0.26"><stop offset="0" stop-color="#ffffff" stop-opacity="0.85"/><stop offset="0.32" stop-color="#8fa2dc"/><stop offset="0.72" stop-color="#8fa2dc"/><stop offset="1" stop-color="#50609c"/></radialGradient>
<filter id="nblur" x="-20%" y="-20%" width="140%" height="140%"><feGaussianBlur stdDeviation="0.45"/></filter>
</defs>
<g filter="url(#nblur)">
<line x1="149.53" y1="392.68" x2="85.83" y2="358.68" stroke="#333333" stroke-width="1.1"/>
<line x1="150" y1="391.8" x2="86.3" y2="357.8" stroke="#c4cf3c" stroke-width="1.1"/>
<line x1="150.47" y1="390.92" x2="86.77" y2="356.92" stroke="#8fcde8" stroke-width="1.1"/>
<line x1="149.38" y1="392.58" x2="111.38" y2="362.58" stroke="#b974bd" stroke-width="1.1"/>
<line x1="150" y1="391.8" x2="112" y2="361.8" stroke="#c4cf3c" stroke-width="1.1"/>
<line x1="150.62" y1="391.02" x2="112.62" y2="361.02" stroke="#8fcde8" stroke-width="1.1"/>
<line x1="149.15" y1="392.32" x2="122.15" y2="348.02" stroke="#b974bd" stroke-width="1.1"/>
<line x1="150" y1="391.8" x2="123" y2="347.5" stroke="#c4cf3c" stroke-width="1.1"/>
<line x1="150.85" y1="391.28" x2="123.85" y2="346.98" stroke="#8fcde8" stroke-width="1.1"/>
<line x1="149.51" y1="391.9" x2="141.31" y2="353.4" stroke="#8fcde8" stroke-width="1.1"/>
<line x1="150.49" y1="391.7" x2="142.29" y2="353.2" stroke="#c4cf3c" stroke-width="1.1"/>
<line x1="149.51" y1="391.68" x2="156.51" y2="362.88" stroke="#8fcde8" stroke-width="1.1"/>
<line x1="150.49" y1="391.92" x2="157.49" y2="363.12" stroke="#c4cf3c" stroke-width="1.1"/>
<line x1="149.33" y1="391.05" x2="173.13" y2="369.75" stroke="#8fcde8" stroke-width="1.1"/>
<line x1="150" y1="391.8" x2="173.8" y2="370.5" stroke="#c4cf3c" stroke-width="1.1"/>
<line x1="150.67" y1="392.55" x2="174.47" y2="371.25" stroke="#333333" stroke-width="1.1"/>
<line x1="149.56" y1="390.9" x2="189.06" y2="371.6" stroke="#c4cf3c" stroke-width="1.1"/>
<line x1="150" y1="391.8" x2="189.5" y2="372.5" stroke="#8fcde8" stroke-width="1.1"/>
<line x1="150.44" y1="392.7" x2="189.94" y2="373.4" stroke="#333333" stroke-width="1.1"/>
<line x1="149.96" y1="392.3" x2="114.46" y2="389.8" stroke="#8fcde8" stroke-width="1.1"/>
<line x1="150.04" y1="391.3" x2="114.54" y2="388.8" stroke="#b974bd" stroke-width="1.1"/>
<line x1="150.45" y1="392.69" x2="110.45" y2="412.89" stroke="#b974bd" stroke-width="1.1"/>
<line x1="150" y1="391.8" x2="110" y2="412" stroke="#c4cf3c" stroke-width="1.1"/>
<line x1="149.55" y1="390.91" x2="109.55" y2="411.11" stroke="#8fcde8" stroke-width="1.1"/>
<line x1="150.73" y1="392.48" x2="130.73" y2="413.98" stroke="#b974bd" stroke-width="1.1"/>
<line x1="150" y1="391.8" x2="130" y2="413.3" stroke="#c4cf3c" stroke-width="1.1"/>
<line x1="149.27" y1="391.12" x2="129.27" y2="412.62" stroke="#8fcde8" stroke-width="1.1"/>
<line x1="151" y1="391.8" x2="151" y2="412" stroke="#b974bd" stroke-width="1.1"/>
<line x1="150" y1="391.8" x2="150" y2="412" stroke="#c4cf3c" stroke-width="1.1"/>
<line x1="149" y1="391.8" x2="149" y2="412" stroke="#8fcde8" stroke-width="1.1"/>
<line x1="150.3" y1="391.4" x2="176.1" y2="410.4" stroke="#8fcde8" stroke-width="1.1"/>
<line x1="149.7" y1="392.2" x2="175.5" y2="411.2" stroke="#c4cf3c" stroke-width="1.1"/>
<line x1="149.79" y1="391.35" x2="213.59" y2="361.35" stroke="#c4cf3c" stroke-width="1.1"/>
<line x1="150.21" y1="392.25" x2="214.01" y2="362.25" stroke="#8fcde8" stroke-width="1.1"/>
<line x1="112" y1="361.8" x2="86.3" y2="357.8" stroke="#b974bd" stroke-width="1.1"/>
<line x1="149.95" y1="411" x2="175.75" y2="409.8" stroke="#b974bd" stroke-width="1.1"/>
<line x1="150" y1="412" x2="175.8" y2="410.8" stroke="#c4cf3c" stroke-width="1.1"/>
<line x1="150.05" y1="413" x2="175.85" y2="411.8" stroke="#8fcde8" stroke-width="1.1"/>
<line x1="150.17" y1="411.01" x2="193.97" y2="418.51" stroke="#b974bd" stroke-width="1.1"/>
<line x1="150" y1="412" x2="193.8" y2="419.5" stroke="#c4cf3c" stroke-width="1.1"/>
<line x1="149.83" y1="412.99" x2="193.63" y2="420.49" stroke="#8fcde8" stroke-width="1.1"/>
<line x1="150.74" y1="411.33" x2="175.04" y2="438.13" stroke="#b974bd" stroke-width="1.1"/>
<line x1="150" y1="412" x2="174.3" y2="438.8" stroke="#c4cf3c" stroke-width="1.1"/>
<line x1="149.26" y1="412.67" x2="173.56" y2="439.47" stroke="#8fcde8" stroke-width="1.1"/>
<line x1="151" y1="411.96" x2="152.3" y2="443.76" stroke="#b974bd" stroke-width="1.1"/>
<line x1="150" y1="412" x2="151.3" y2="443.8" stroke="#c4cf3c" stroke-width="1.1"/>
<line x1="149" y1="412.04" x2="150.3" y2="443.84" stroke="#8fcde8" stroke-width="1.1"/>
<line x1="150.03" y1="412.5" x2="130.03" y2="413.8" stroke="#b974bd" stroke-width="1.1"/>
<line x1="149.97" y1="411.5" x2="129.97" y2="412.8" stroke="#8fcde8" stroke-width="1.1"/>
<line x1="150.64" y1="412.77" x2="120.14" y2="438.27" stroke="#b974bd" stroke-width="1.1"/>
<line x1="150" y1="412" x2="119.5" y2="437.5" stroke="#c4cf3c" stroke-width="1.1"/>
<line x1="149.36" y1="411.23" x2="118.86" y2="436.73" stroke="#8fcde8" stroke-width="1.1"/>
<line x1="150.98" y1="412.17" x2="138.48" y2="483.47" stroke="#333333" stroke-width="1.1"/>
<line x1="150" y1="412" x2="137.5" y2="483.3" stroke="#c4cf3c" stroke-width="1.1"/>
<line x1="149.02" y1="411.83" x2="136.52" y2="483.13" stroke="#b974bd" stroke-width="1.1"/>
<line x1="150.5" y1="411.99" x2="153" y2="502.99" stroke="#8fcde8" stroke-width="1.1"/>
<line x1="149.5" y1="412.01" x2="152" y2="503.01" stroke="#c4cf3c" stroke-width="1.1"/>
<line x1="150" y1="412.5" x2="110" y2="412.5" stroke="#b974bd" stroke-width="1.1"/>
<line x1="150" y1="411.5" x2="110" y2="411.5" stroke="#c4cf3c" stroke-width="1.1"/>
<line x1="173.93" y1="369.51" x2="189.63" y2="371.51" stroke="#b974bd" stroke-width="1.1"/>
<line x1="173.8" y1="370.5" x2="189.5" y2="372.5" stroke="#c4cf3c" stroke-width="1.1"/>
<line x1="173.67" y1="371.49" x2="189.37" y2="373.49" stroke="#8fcde8" stroke-width="1.1"/>
<line x1="173.39" y1="371.41" x2="156.59" y2="363.91" stroke="#b974bd" stroke-width="1.1"/>
<line x1="173.8" y1="370.5" x2="157" y2="363" stroke="#c4cf3c" stroke-width="1.1"/>
<line x1="174.21" y1="369.59" x2="157.41" y2="362.09" stroke="#8fcde8" stroke-width="1.1"/>
<line x1="174.2" y1="370.2" x2="189.2" y2="390.5" stroke="#8fcde8" stroke-width="1.1"/>
<line x1="173.4" y1="370.8" x2="188.4" y2="391.1" stroke="#c4cf3c" stroke-width="1.1"/>
<line x1="189.1" y1="371.58" x2="213.4" y2="360.88" stroke="#b974bd" stroke-width="1.1"/>
<line x1="189.5" y1="372.5" x2="213.8" y2="361.8" stroke="#c4cf3c" stroke-width="1.1"/>
<line x1="189.9" y1="373.42" x2="214.2" y2="362.72" stroke="#8fcde8" stroke-width="1.1"/>
<line x1="189" y1="372.49" x2="189.5" y2="346.79" stroke="#b974bd" stroke-width="1.1"/>
<line x1="190" y1="372.51" x2="190.5" y2="346.81" stroke="#c4cf3c" stroke-width="1.1"/>
<line x1="189.5" y1="372.5" x2="188.8" y2="390.8" stroke="#b974bd" stroke-width="1.1"/>
<line x1="189.64" y1="391.34" x2="176.64" y2="411.34" stroke="#b974bd" stroke-width="1.1"/>
<line x1="188.8" y1="390.8" x2="175.8" y2="410.8" stroke="#c4cf3c" stroke-width="1.1"/>
<line x1="187.96" y1="390.26" x2="174.96" y2="410.26" stroke="#8fcde8" stroke-width="1.1"/>
<line x1="189.29" y1="390.71" x2="194.29" y2="419.41" stroke="#8fcde8" stroke-width="1.1"/>
<line x1="188.31" y1="390.89" x2="193.31" y2="419.59" stroke="#c4cf3c" stroke-width="1.1"/>
<line x1="176.24" y1="409.9" x2="194.24" y2="418.6" stroke="#b974bd" stroke-width="1.1"/>
<line x1="175.8" y1="410.8" x2="193.8" y2="419.5" stroke="#c4cf3c" stroke-width="1.1"/>
<line x1="175.36" y1="411.7" x2="193.36" y2="420.4" stroke="#8fcde8" stroke-width="1.1"/>
<line x1="176.3" y1="410.83" x2="174.8" y2="438.83" stroke="#8fcde8" stroke-width="1.1"/>
<line x1="175.3" y1="410.77" x2="173.8" y2="438.77" stroke="#c4cf3c" stroke-width="1.1"/>
<line x1="194.15" y1="419.86" x2="174.65" y2="439.16" stroke="#b974bd" stroke-width="1.1"/>
<line x1="193.45" y1="419.14" x2="173.95" y2="438.44" stroke="#8fcde8" stroke-width="1.1"/>
<line x1="210" y1="393.81" x2="209.3" y2="424.51" stroke="#c4cf3c" stroke-width="1.1"/>
<line x1="209" y1="393.79" x2="208.3" y2="424.49" stroke="#8fcde8" stroke-width="1.1"/>
<line x1="86.73" y1="357.55" x2="97.93" y2="376.75" stroke="#333333" stroke-width="1.1"/>
<line x1="85.87" y1="358.05" x2="97.07" y2="377.25" stroke="#8fcde8" stroke-width="1.1"/>
<line x1="97.5" y1="377" x2="91.8" y2="403.8" stroke="#333333" stroke-width="1.1"/>
<line x1="92.01" y1="403.34" x2="110.21" y2="411.54" stroke="#c4cf3c" stroke-width="1.1"/>
<line x1="91.59" y1="404.26" x2="109.79" y2="412.46" stroke="#8fcde8" stroke-width="1.1"/>
<line x1="87.5" y1="421.8" x2="103.3" y2="430.8" stroke="#8fcde8" stroke-width="1.1"/>
<line x1="124.3" y1="332.5" x2="145" y2="331.3" stroke="#c4cf3c" stroke-width="1.1"/>
<line x1="171.75" y1="332.21" x2="157.45" y2="363.21" stroke="#b974bd" stroke-width="1.1"/>
<line x1="170.85" y1="331.79" x2="156.55" y2="362.79" stroke="#c4cf3c" stroke-width="1.1"/>
<line x1="145.47" y1="331.12" x2="157.47" y2="362.82" stroke="#b974bd" stroke-width="1.1"/>
<line x1="144.53" y1="331.48" x2="156.53" y2="363.18" stroke="#c4cf3c" stroke-width="1.1"/>
<line x1="189.5" y1="372.5" x2="209.5" y2="393.8" stroke="#b974bd" stroke-width="1.1"/>
<line x1="114.5" y1="389.3" x2="110" y2="412" stroke="#c4cf3c" stroke-width="1.1"/>
<line x1="119.5" y1="437.5" x2="130" y2="413.3" stroke="#b974bd" stroke-width="1.1"/>
<line x1="173.8" y1="370.5" x2="150" y2="412" stroke="#8fcde8" stroke-width="1.1"/>
<line x1="151.09" y1="442.82" x2="174.09" y2="437.82" stroke="#b974bd" stroke-width="1.1"/>
<line x1="151.3" y1="443.8" x2="174.3" y2="438.8" stroke="#c4cf3c" stroke-width="1.1"/>
<line x1="151.51" y1="444.78" x2="174.51" y2="439.78" stroke="#8fcde8" stroke-width="1.1"/>
<line x1="151.45" y1="444.28" x2="132.65" y2="449.98" stroke="#c4cf3c" stroke-width="1.1"/>
<line x1="151.15" y1="443.32" x2="132.35" y2="449.02" stroke="#8fcde8" stroke-width="1.1"/>
<line x1="132.5" y1="449.5" x2="108.8" y2="456.3" stroke="#c4cf3c" stroke-width="1.1"/>
<line x1="152.24" y1="444.13" x2="138.44" y2="483.63" stroke="#b974bd" stroke-width="1.1"/>
<line x1="151.3" y1="443.8" x2="137.5" y2="483.3" stroke="#c4cf3c" stroke-width="1.1"/>
<line x1="150.36" y1="443.47" x2="136.56" y2="482.97" stroke="#8fcde8" stroke-width="1.1"/>
<line x1="151.79" y1="443.7" x2="159.99" y2="485.4" stroke="#8fcde8" stroke-width="1.1"/>
<line x1="150.81" y1="443.9" x2="159.01" y2="485.6" stroke="#c4cf3c" stroke-width="1.1"/>
<line x1="119.6" y1="437.01" x2="151.4" y2="443.31" stroke="#c4cf3c" stroke-width="1.1"/>
<line x1="119.4" y1="437.99" x2="151.2" y2="444.29" stroke="#8fcde8" stroke-width="1.1"/>
<line x1="119.5" y1="437.5" x2="132.5" y2="449.5" stroke="#b974bd" stroke-width="1.1"/>
<line x1="130" y1="413.3" x2="114.5" y2="389.3" stroke="#8fcde8" stroke-width="1.1"/>
<line x1="137.6" y1="482.3" x2="159.6" y2="484.5" stroke="#b974bd" stroke-width="1.1"/>
<line x1="137.5" y1="483.3" x2="159.5" y2="485.5" stroke="#c4cf3c" stroke-width="1.1"/>
<line x1="137.4" y1="484.3" x2="159.4" y2="486.5" stroke="#8fcde8" stroke-width="1.1"/>
<line x1="138.3" y1="482.69" x2="153.3" y2="502.39" stroke="#b974bd" stroke-width="1.1"/>
<line x1="137.5" y1="483.3" x2="152.5" y2="503" stroke="#c4cf3c" stroke-width="1.1"/>
<line x1="136.7" y1="483.91" x2="151.7" y2="503.61" stroke="#8fcde8" stroke-width="1.1"/>
<line x1="137.99" y1="483.41" x2="132.29" y2="507.61" stroke="#c4cf3c" stroke-width="1.1"/>
<line x1="137.01" y1="483.19" x2="131.31" y2="507.39" stroke="#8fcde8" stroke-width="1.1"/>
<line x1="160.43" y1="485.87" x2="153.43" y2="503.37" stroke="#b974bd" stroke-width="1.1"/>
<line x1="159.5" y1="485.5" x2="152.5" y2="503" stroke="#c4cf3c" stroke-width="1.1"/>
<line x1="158.57" y1="485.13" x2="151.57" y2="502.63" stroke="#8fcde8" stroke-width="1.1"/>
<line x1="152.5" y1="502.5" x2="179.5" y2="502.5" stroke="#8fcde8" stroke-width="1.1"/>
<line x1="152.5" y1="503.5" x2="179.5" y2="503.5" stroke="#c4cf3c" stroke-width="1.1"/>
<line x1="153.23" y1="502.32" x2="163.23" y2="513.12" stroke="#b974bd" stroke-width="1.1"/>
<line x1="152.5" y1="503" x2="162.5" y2="513.8" stroke="#c4cf3c" stroke-width="1.1"/>
<line x1="151.77" y1="503.68" x2="161.77" y2="514.48" stroke="#8fcde8" stroke-width="1.1"/>
<line x1="152.61" y1="503.49" x2="131.91" y2="507.99" stroke="#8fcde8" stroke-width="1.1"/>
<line x1="152.39" y1="502.51" x2="131.69" y2="507.01" stroke="#c4cf3c" stroke-width="1.1"/>
<line x1="153.45" y1="503.3" x2="145.25" y2="529.1" stroke="#333333" stroke-width="1.1"/>
<line x1="152.5" y1="503" x2="144.3" y2="528.8" stroke="#c4cf3c" stroke-width="1.1"/>
<line x1="151.55" y1="502.7" x2="143.35" y2="528.5" stroke="#b974bd" stroke-width="1.1"/>
<line x1="162.82" y1="514.19" x2="144.62" y2="529.19" stroke="#b974bd" stroke-width="1.1"/>
<line x1="162.18" y1="513.41" x2="143.98" y2="528.41" stroke="#333333" stroke-width="1.1"/>
<line x1="137.99" y1="483.23" x2="144.79" y2="528.73" stroke="#c4cf3c" stroke-width="1.1"/>
<line x1="137.01" y1="483.37" x2="143.81" y2="528.87" stroke="#8fcde8" stroke-width="1.1"/>
<line x1="159.5" y1="485.5" x2="179.5" y2="503" stroke="#8fcde8" stroke-width="1.1"/>
<line x1="162.5" y1="513.8" x2="179.5" y2="503" stroke="#8fcde8" stroke-width="1.1"/>
<line x1="214.23" y1="360.9" x2="281.73" y2="393.4" stroke="#333333" stroke-width="1.1"/>
<line x1="213.8" y1="361.8" x2="281.3" y2="394.3" stroke="#c4cf3c" stroke-width="1.1"/>
<line x1="213.37" y1="362.7" x2="280.87" y2="395.2" stroke="#8fcde8" stroke-width="1.1"/>
<line x1="315.76" y1="365.08" x2="337.06" y2="378.38" stroke="#b974bd" stroke-width="1.1"/>
<line x1="315.24" y1="365.92" x2="336.54" y2="379.22" stroke="#333333" stroke-width="1.1"/>
<line x1="315.87" y1="364.57" x2="361.17" y2="382.37" stroke="#b974bd" stroke-width="1.1"/>
<line x1="315.5" y1="365.5" x2="360.8" y2="383.3" stroke="#c4cf3c" stroke-width="1.1"/>
<line x1="315.13" y1="366.43" x2="360.43" y2="384.23" stroke="#333333" stroke-width="1.1"/>
<line x1="315.94" y1="365.74" x2="302.44" y2="390.74" stroke="#b974bd" stroke-width="1.1"/>
<line x1="315.06" y1="365.26" x2="301.56" y2="390.26" stroke="#333333" stroke-width="1.1"/>
<line x1="316.5" y1="365.53" x2="315.5" y2="399.53" stroke="#b974bd" stroke-width="1.1"/>
<line x1="315.5" y1="365.5" x2="314.5" y2="399.5" stroke="#c4cf3c" stroke-width="1.1"/>
<line x1="314.5" y1="365.47" x2="313.5" y2="399.47" stroke="#8fcde8" stroke-width="1.1"/>
<line x1="316.43" y1="365.12" x2="332.23" y2="404.12" stroke="#b974bd" stroke-width="1.1"/>
<line x1="315.5" y1="365.5" x2="331.3" y2="404.5" stroke="#c4cf3c" stroke-width="1.1"/>
<line x1="314.57" y1="365.88" x2="330.37" y2="404.88" stroke="#8fcde8" stroke-width="1.1"/>
<line x1="315.91" y1="365.22" x2="352.21" y2="419.22" stroke="#b974bd" stroke-width="1.1"/>
<line x1="315.09" y1="365.78" x2="351.39" y2="419.78" stroke="#c4cf3c" stroke-width="1.1"/>
<line x1="336.98" y1="377.82" x2="360.98" y2="382.32" stroke="#b974bd" stroke-width="1.1"/>
<line x1="336.8" y1="378.8" x2="360.8" y2="383.3" stroke="#c4cf3c" stroke-width="1.1"/>
<line x1="336.62" y1="379.78" x2="360.62" y2="384.28" stroke="#8fcde8" stroke-width="1.1"/>
<line x1="360.8" y1="383.3" x2="360" y2="363.8" stroke="#b974bd" stroke-width="1.1"/>
<line x1="360.86" y1="382.8" x2="380.86" y2="385.3" stroke="#b974bd" stroke-width="1.1"/>
<line x1="360.74" y1="383.8" x2="380.74" y2="386.3" stroke="#6cbc6c" stroke-width="1.1"/>
<line x1="361.19" y1="382.99" x2="376.19" y2="401.69" stroke="#b974bd" stroke-width="1.1"/>
<line x1="360.41" y1="383.61" x2="375.41" y2="402.31" stroke="#c4cf3c" stroke-width="1.1"/>
<line x1="360.92" y1="384.29" x2="302.12" y2="391.49" stroke="#b974bd" stroke-width="1.1"/>
<line x1="360.8" y1="383.3" x2="302" y2="390.5" stroke="#c4cf3c" stroke-width="1.1"/>
<line x1="360.68" y1="382.31" x2="301.88" y2="389.51" stroke="#8fcde8" stroke-width="1.1"/>
<line x1="361.13" y1="384.24" x2="314.83" y2="400.44" stroke="#b974bd" stroke-width="1.1"/>
<line x1="360.8" y1="383.3" x2="314.5" y2="399.5" stroke="#c4cf3c" stroke-width="1.1"/>
<line x1="360.47" y1="382.36" x2="314.17" y2="398.56" stroke="#8fcde8" stroke-width="1.1"/>
<line x1="361.38" y1="384.11" x2="331.88" y2="405.31" stroke="#b974bd" stroke-width="1.1"/>
<line x1="360.8" y1="383.3" x2="331.3" y2="404.5" stroke="#c4cf3c" stroke-width="1.1"/>
<line x1="360.22" y1="382.49" x2="330.72" y2="403.69" stroke="#8fcde8" stroke-width="1.1"/>
<line x1="361.77" y1="383.54" x2="352.77" y2="419.74" stroke="#b974bd" stroke-width="1.1"/>
<line x1="360.8" y1="383.3" x2="351.8" y2="419.5" stroke="#c4cf3c" stroke-width="1.1"/>
<line x1="359.83" y1="383.06" x2="350.83" y2="419.26" stroke="#8fcde8" stroke-width="1.1"/>
<line x1="361.24" y1="383.54" x2="332.24" y2="437.24" stroke="#b974bd" stroke-width="1.1"/>
<line x1="360.36" y1="383.06" x2="331.36" y2="436.76" stroke="#8fcde8" stroke-width="1.1"/>
<line x1="361.14" y1="383.67" x2="316.64" y2="424.17" stroke="#c4cf3c" stroke-width="1.1"/>
<line x1="360.46" y1="382.93" x2="315.96" y2="423.43" stroke="#8fcde8" stroke-width="1.1"/>
<line x1="302.58" y1="389.69" x2="315.08" y2="398.69" stroke="#b974bd" stroke-width="1.1"/>
<line x1="302" y1="390.5" x2="314.5" y2="399.5" stroke="#c4cf3c" stroke-width="1.1"/>
<line x1="301.42" y1="391.31" x2="313.92" y2="400.31" stroke="#333333" stroke-width="1.1"/>
<line x1="314.79" y1="398.54" x2="331.59" y2="403.54" stroke="#b974bd" stroke-width="1.1"/>
<line x1="314.5" y1="399.5" x2="331.3" y2="404.5" stroke="#c4cf3c" stroke-width="1.1"/>
<line x1="314.21" y1="400.46" x2="331.01" y2="405.46" stroke="#8fcde8" stroke-width="1.1"/>
<line x1="315.5" y1="399.43" x2="317.3" y2="423.73" stroke="#b974bd" stroke-width="1.1"/>
<line x1="314.5" y1="399.5" x2="316.3" y2="423.8" stroke="#c4cf3c" stroke-width="1.1"/>
<line x1="313.5" y1="399.57" x2="315.3" y2="423.87" stroke="#8fcde8" stroke-width="1.1"/>
<line x1="314.95" y1="399.29" x2="332.25" y2="436.79" stroke="#c4cf3c" stroke-width="1.1"/>
<line x1="314.05" y1="399.71" x2="331.35" y2="437.21" stroke="#8fcde8" stroke-width="1.1"/>
<line x1="314.74" y1="399.06" x2="352.04" y2="419.06" stroke="#b974bd" stroke-width="1.1"/>
<line x1="314.26" y1="399.94" x2="351.56" y2="419.94" stroke="#6cbc6c" stroke-width="1.1"/>
<line x1="331.89" y1="403.69" x2="352.39" y2="418.69" stroke="#b974bd" stroke-width="1.1"/>
<line x1="331.3" y1="404.5" x2="351.8" y2="419.5" stroke="#c4cf3c" stroke-width="1.1"/>
<line x1="330.71" y1="405.31" x2="351.21" y2="420.31" stroke="#6cbc6c" stroke-width="1.1"/>
<line x1="332.3" y1="404.48" x2="332.8" y2="436.98" stroke="#b974bd" stroke-width="1.1"/>
<line x1="331.3" y1="404.5" x2="331.8" y2="437" stroke="#c4cf3c" stroke-width="1.1"/>
<line x1="330.3" y1="404.52" x2="330.8" y2="437.02" stroke="#8fcde8" stroke-width="1.1"/>
<line x1="331.69" y1="404.81" x2="316.69" y2="424.11" stroke="#c4cf3c" stroke-width="1.1"/>
<line x1="330.91" y1="404.19" x2="315.91" y2="423.49" stroke="#8fcde8" stroke-width="1.1"/>
<line x1="352.46" y1="420.25" x2="332.46" y2="437.75" stroke="#b974bd" stroke-width="1.1"/>
<line x1="351.8" y1="419.5" x2="331.8" y2="437" stroke="#c4cf3c" stroke-width="1.1"/>
<line x1="351.14" y1="418.75" x2="331.14" y2="436.25" stroke="#8fcde8" stroke-width="1.1"/>
<line x1="316.95" y1="423.04" x2="332.45" y2="436.24" stroke="#b974bd" stroke-width="1.1"/>
<line x1="316.3" y1="423.8" x2="331.8" y2="437" stroke="#c4cf3c" stroke-width="1.1"/>
<line x1="315.65" y1="424.56" x2="331.15" y2="437.76" stroke="#8fcde8" stroke-width="1.1"/>
<line x1="316.44" y1="424.28" x2="272.64" y2="437.48" stroke="#c4cf3c" stroke-width="1.1"/>
<line x1="316.16" y1="423.32" x2="272.36" y2="436.52" stroke="#8fcde8" stroke-width="1.1"/>
<line x1="316.7" y1="424.1" x2="301.7" y2="444.6" stroke="#8fcde8" stroke-width="1.1"/>
<line x1="315.9" y1="423.5" x2="300.9" y2="444" stroke="#c4cf3c" stroke-width="1.1"/>
<line x1="331.92" y1="437.49" x2="301.42" y2="444.79" stroke="#8fcde8" stroke-width="1.1"/>
<line x1="331.68" y1="436.51" x2="301.18" y2="443.81" stroke="#c4cf3c" stroke-width="1.1"/>
<line x1="331.8" y1="437" x2="272.5" y2="437" stroke="#8fcde8" stroke-width="1.1"/>
<line x1="272.75" y1="436.03" x2="301.55" y2="443.33" stroke="#b974bd" stroke-width="1.1"/>
<line x1="272.5" y1="437" x2="301.3" y2="444.3" stroke="#c4cf3c" stroke-width="1.1"/>
<line x1="272.25" y1="437.97" x2="301.05" y2="445.27" stroke="#8fcde8" stroke-width="1.1"/>
<line x1="272.5" y1="437" x2="283" y2="410.5" stroke="#8fcde8" stroke-width="1.1"/>
<line x1="301.3" y1="444.3" x2="279.5" y2="460" stroke="#8fcde8" stroke-width="1.1"/>
<line x1="331.8" y1="437" x2="313.8" y2="461.3" stroke="#8fcde8" stroke-width="1.1"/>
<line x1="316.3" y1="423.8" x2="313.8" y2="461.3" stroke="#8fcde8" stroke-width="1.1"/>
<line x1="281.3" y1="394.3" x2="314.5" y2="399.5" stroke="#8fcde8" stroke-width="1.1"/>
<ellipse cx="124.5" cy="333.7" rx="7.2" ry="7" fill="#3c3c34" opacity="0.8"/>
<circle cx="124.3" cy="332.5" r="6.7" fill="url(#ng_pu)" stroke="#5c5a9c" stroke-width="1"/>
<ellipse cx="124.3" cy="335.7" rx="4.5" ry="2.3" fill="#fff" opacity="0.28"/>
<ellipse cx="145.2" cy="332.5" rx="7.2" ry="7" fill="#3c3c34" opacity="0.8"/>
<circle cx="145" cy="331.3" r="6.7" fill="url(#ng_gr)" stroke="#5f9a5e" stroke-width="1"/>
<ellipse cx="145" cy="334.5" rx="4.5" ry="2.3" fill="#fff" opacity="0.28"/>
<ellipse cx="171.5" cy="333.2" rx="7.2" ry="7" fill="#3c3c34" opacity="0.8"/>
<circle cx="171.3" cy="332" r="6.7" fill="url(#ng_gr)" stroke="#5f9a5e" stroke-width="1"/>
<ellipse cx="171.3" cy="335.2" rx="4.5" ry="2.3" fill="#fff" opacity="0.28"/>
<ellipse cx="190.2" cy="348" rx="7.2" ry="7" fill="#3c3c34" opacity="0.8"/>
<circle cx="190" cy="346.8" r="6.7" fill="url(#ng_bl)" stroke="#50609c" stroke-width="1"/>
<ellipse cx="190" cy="350" rx="4.5" ry="2.3" fill="#fff" opacity="0.28"/>
<ellipse cx="123.2" cy="348.7" rx="7.2" ry="7" fill="#3c3c34" opacity="0.8"/>
<circle cx="123" cy="347.5" r="6.7" fill="url(#ng_ol)" stroke="#7c7d36" stroke-width="1"/>
<ellipse cx="123" cy="350.7" rx="4.5" ry="2.3" fill="#fff" opacity="0.28"/>
<ellipse cx="142" cy="354.5" rx="7.2" ry="7" fill="#3c3c34" opacity="0.8"/>
<circle cx="141.8" cy="353.3" r="6.7" fill="url(#ng_gr)" stroke="#5f9a5e" stroke-width="1"/>
<ellipse cx="141.8" cy="356.5" rx="4.5" ry="2.3" fill="#fff" opacity="0.28"/>
<ellipse cx="86.5" cy="359" rx="7.2" ry="7" fill="#3c3c34" opacity="0.8"/>
<circle cx="86.3" cy="357.8" r="6.7" fill="url(#ng_gr)" stroke="#5f9a5e" stroke-width="1"/>
<ellipse cx="86.3" cy="361" rx="4.5" ry="2.3" fill="#fff" opacity="0.28"/>
<ellipse cx="112.2" cy="363" rx="7.2" ry="7" fill="#3c3c34" opacity="0.8"/>
<circle cx="112" cy="361.8" r="6.7" fill="url(#ng_pu)" stroke="#5c5a9c" stroke-width="1"/>
<ellipse cx="112" cy="365" rx="4.5" ry="2.3" fill="#fff" opacity="0.28"/>
<ellipse cx="157.2" cy="364.2" rx="7.2" ry="7" fill="#3c3c34" opacity="0.8"/>
<circle cx="157" cy="363" r="6.7" fill="url(#ng_bl)" stroke="#50609c" stroke-width="1"/>
<ellipse cx="157" cy="366.2" rx="4.5" ry="2.3" fill="#fff" opacity="0.28"/>
<ellipse cx="174" cy="371.7" rx="7.2" ry="7" fill="#3c3c34" opacity="0.8"/>
<circle cx="173.8" cy="370.5" r="6.7" fill="url(#ng_gr)" stroke="#5f9a5e" stroke-width="1"/>
<ellipse cx="173.8" cy="373.7" rx="4.5" ry="2.3" fill="#fff" opacity="0.28"/>
<ellipse cx="189.7" cy="373.7" rx="7.2" ry="7" fill="#3c3c34" opacity="0.8"/>
<circle cx="189.5" cy="372.5" r="6.7" fill="url(#ng_pk)" stroke="#a56360" stroke-width="1"/>
<ellipse cx="189.5" cy="375.7" rx="4.5" ry="2.3" fill="#fff" opacity="0.28"/>
<ellipse cx="214" cy="363" rx="7.2" ry="7" fill="#3c3c34" opacity="0.8"/>
<circle cx="213.8" cy="361.8" r="6.7" fill="url(#ng_te)" stroke="#4f8f82" stroke-width="1"/>
<ellipse cx="213.8" cy="365" rx="4.5" ry="2.3" fill="#fff" opacity="0.28"/>
<ellipse cx="97.7" cy="378.2" rx="7.2" ry="7" fill="#3c3c34" opacity="0.8"/>
<circle cx="97.5" cy="377" r="6.7" fill="url(#ng_pk)" stroke="#a56360" stroke-width="1"/>
<ellipse cx="97.5" cy="380.2" rx="4.5" ry="2.3" fill="#fff" opacity="0.28"/>
<ellipse cx="114.7" cy="390.5" rx="7.2" ry="7" fill="#3c3c34" opacity="0.8"/>
<circle cx="114.5" cy="389.3" r="6.7" fill="url(#ng_lb)" stroke="#5f8ba0" stroke-width="1"/>
<ellipse cx="114.5" cy="392.5" rx="4.5" ry="2.3" fill="#fff" opacity="0.28"/>
<ellipse cx="150.2" cy="393" rx="7.2" ry="7" fill="#3c3c34" opacity="0.8"/>
<circle cx="150" cy="391.8" r="6.7" fill="url(#ng_gr)" stroke="#5f9a5e" stroke-width="1"/>
<ellipse cx="150" cy="395" rx="4.5" ry="2.3" fill="#fff" opacity="0.28"/>
<ellipse cx="189" cy="392" rx="7.2" ry="7" fill="#3c3c34" opacity="0.8"/>
<circle cx="188.8" cy="390.8" r="6.7" fill="url(#ng_te)" stroke="#4f8f82" stroke-width="1"/>
<ellipse cx="188.8" cy="394" rx="4.5" ry="2.3" fill="#fff" opacity="0.28"/>
<ellipse cx="209.7" cy="395" rx="7.2" ry="7" fill="#3c3c34" opacity="0.8"/>
<circle cx="209.5" cy="393.8" r="6.7" fill="url(#ng_dt)" stroke="#2c7670" stroke-width="1"/>
<ellipse cx="209.5" cy="397" rx="4.5" ry="2.3" fill="#fff" opacity="0.28"/>
<ellipse cx="92" cy="405" rx="7.2" ry="7" fill="#3c3c34" opacity="0.8"/>
<circle cx="91.8" cy="403.8" r="6.7" fill="url(#ng_ol)" stroke="#7c7d36" stroke-width="1"/>
<ellipse cx="91.8" cy="407" rx="4.5" ry="2.3" fill="#fff" opacity="0.28"/>
<ellipse cx="110.2" cy="413.2" rx="7.2" ry="7" fill="#3c3c34" opacity="0.8"/>
<circle cx="110" cy="412" r="6.7" fill="url(#ng_db)" stroke="#2f2d78" stroke-width="1"/>
<ellipse cx="110" cy="415.2" rx="4.5" ry="2.3" fill="#fff" opacity="0.28"/>
<ellipse cx="130.2" cy="414.5" rx="7.2" ry="7" fill="#3c3c34" opacity="0.8"/>
<circle cx="130" cy="413.3" r="6.7" fill="url(#ng_ta)" stroke="#97895c" stroke-width="1"/>
<ellipse cx="130" cy="416.5" rx="4.5" ry="2.3" fill="#fff" opacity="0.28"/>
<ellipse cx="150.2" cy="413.2" rx="7.2" ry="7" fill="#3c3c34" opacity="0.8"/>
<circle cx="150" cy="412" r="6.7" fill="url(#ng_ta)" stroke="#97895c" stroke-width="1"/>
<ellipse cx="150" cy="415.2" rx="4.5" ry="2.3" fill="#fff" opacity="0.28"/>
<ellipse cx="176" cy="412" rx="7.2" ry="7" fill="#3c3c34" opacity="0.8"/>
<circle cx="175.8" cy="410.8" r="6.7" fill="url(#ng_pu)" stroke="#5c5a9c" stroke-width="1"/>
<ellipse cx="175.8" cy="414" rx="4.5" ry="2.3" fill="#fff" opacity="0.28"/>
<ellipse cx="194" cy="420.7" rx="7.2" ry="7" fill="#3c3c34" opacity="0.8"/>
<circle cx="193.8" cy="419.5" r="6.7" fill="url(#ng_gr)" stroke="#5f9a5e" stroke-width="1"/>
<ellipse cx="193.8" cy="422.7" rx="4.5" ry="2.3" fill="#fff" opacity="0.28"/>
<ellipse cx="209" cy="425.7" rx="7.2" ry="7" fill="#3c3c34" opacity="0.8"/>
<circle cx="208.8" cy="424.5" r="6.7" fill="url(#ng_pu)" stroke="#5c5a9c" stroke-width="1"/>
<ellipse cx="208.8" cy="427.7" rx="4.5" ry="2.3" fill="#fff" opacity="0.28"/>
<ellipse cx="87.7" cy="423" rx="7.2" ry="7" fill="#3c3c34" opacity="0.8"/>
<circle cx="87.5" cy="421.8" r="6.7" fill="url(#ng_pu)" stroke="#5c5a9c" stroke-width="1"/>
<ellipse cx="87.5" cy="425" rx="4.5" ry="2.3" fill="#fff" opacity="0.28"/>
<ellipse cx="103.5" cy="432" rx="7.2" ry="7" fill="#3c3c34" opacity="0.8"/>
<circle cx="103.3" cy="430.8" r="6.7" fill="url(#ng_ta)" stroke="#97895c" stroke-width="1"/>
<ellipse cx="103.3" cy="434" rx="4.5" ry="2.3" fill="#fff" opacity="0.28"/>
<ellipse cx="119.7" cy="438.7" rx="7.2" ry="7" fill="#3c3c34" opacity="0.8"/>
<circle cx="119.5" cy="437.5" r="6.7" fill="url(#ng_yg)" stroke="#8b9c60" stroke-width="1"/>
<ellipse cx="119.5" cy="440.7" rx="4.5" ry="2.3" fill="#fff" opacity="0.28"/>
<ellipse cx="174.5" cy="440" rx="7.2" ry="7" fill="#3c3c34" opacity="0.8"/>
<circle cx="174.3" cy="438.8" r="6.7" fill="url(#ng_bl)" stroke="#50609c" stroke-width="1"/>
<ellipse cx="174.3" cy="442" rx="4.5" ry="2.3" fill="#fff" opacity="0.28"/>
<ellipse cx="151.5" cy="445" rx="7.2" ry="7" fill="#3c3c34" opacity="0.8"/>
<circle cx="151.3" cy="443.8" r="6.7" fill="url(#ng_lb)" stroke="#5f8ba0" stroke-width="1"/>
<ellipse cx="151.3" cy="447" rx="4.5" ry="2.3" fill="#fff" opacity="0.28"/>
<ellipse cx="132.7" cy="450.7" rx="7.2" ry="7" fill="#3c3c34" opacity="0.8"/>
<circle cx="132.5" cy="449.5" r="6.7" fill="url(#ng_gr)" stroke="#5f9a5e" stroke-width="1"/>
<ellipse cx="132.5" cy="452.7" rx="4.5" ry="2.3" fill="#fff" opacity="0.28"/>
<ellipse cx="109" cy="457.5" rx="7.2" ry="7" fill="#3c3c34" opacity="0.8"/>
<circle cx="108.8" cy="456.3" r="6.7" fill="url(#ng_lb)" stroke="#5f8ba0" stroke-width="1"/>
<ellipse cx="108.8" cy="459.5" rx="4.5" ry="2.3" fill="#fff" opacity="0.28"/>
<ellipse cx="137.7" cy="484.5" rx="7.2" ry="7" fill="#3c3c34" opacity="0.8"/>
<circle cx="137.5" cy="483.3" r="6.7" fill="url(#ng_te)" stroke="#4f8f82" stroke-width="1"/>
<ellipse cx="137.5" cy="486.5" rx="4.5" ry="2.3" fill="#fff" opacity="0.28"/>
<ellipse cx="159.7" cy="486.7" rx="7.2" ry="7" fill="#3c3c34" opacity="0.8"/>
<circle cx="159.5" cy="485.5" r="6.7" fill="url(#ng_gr)" stroke="#5f9a5e" stroke-width="1"/>
<ellipse cx="159.5" cy="488.7" rx="4.5" ry="2.3" fill="#fff" opacity="0.28"/>
<ellipse cx="152.7" cy="504.2" rx="7.2" ry="7" fill="#3c3c34" opacity="0.8"/>
<circle cx="152.5" cy="503" r="6.7" fill="url(#ng_te)" stroke="#4f8f82" stroke-width="1"/>
<ellipse cx="152.5" cy="506.2" rx="4.5" ry="2.3" fill="#fff" opacity="0.28"/>
<ellipse cx="179.7" cy="504.2" rx="7.2" ry="7" fill="#3c3c34" opacity="0.8"/>
<circle cx="179.5" cy="503" r="6.7" fill="url(#ng_yg)" stroke="#8b9c60" stroke-width="1"/>
<ellipse cx="179.5" cy="506.2" rx="4.5" ry="2.3" fill="#fff" opacity="0.28"/>
<ellipse cx="132" cy="508.7" rx="7.2" ry="7" fill="#3c3c34" opacity="0.8"/>
<circle cx="131.8" cy="507.5" r="6.7" fill="url(#ng_te)" stroke="#4f8f82" stroke-width="1"/>
<ellipse cx="131.8" cy="510.7" rx="4.5" ry="2.3" fill="#fff" opacity="0.28"/>
<ellipse cx="162.7" cy="515" rx="7.2" ry="7" fill="#3c3c34" opacity="0.8"/>
<circle cx="162.5" cy="513.8" r="6.7" fill="url(#ng_pu)" stroke="#5c5a9c" stroke-width="1"/>
<ellipse cx="162.5" cy="517" rx="4.5" ry="2.3" fill="#fff" opacity="0.28"/>
<ellipse cx="144.5" cy="530" rx="7.2" ry="7" fill="#3c3c34" opacity="0.8"/>
<circle cx="144.3" cy="528.8" r="6.7" fill="url(#ng_lb)" stroke="#5f8ba0" stroke-width="1"/>
<ellipse cx="144.3" cy="532" rx="4.5" ry="2.3" fill="#fff" opacity="0.28"/>
<ellipse cx="315.7" cy="366.7" rx="7.2" ry="7" fill="#3c3c34" opacity="0.8"/>
<circle cx="315.5" cy="365.5" r="6.7" fill="url(#ng_pk)" stroke="#a56360" stroke-width="1"/>
<ellipse cx="315.5" cy="368.7" rx="4.5" ry="2.3" fill="#fff" opacity="0.28"/>
<ellipse cx="360.2" cy="365" rx="7.2" ry="7" fill="#3c3c34" opacity="0.8"/>
<circle cx="360" cy="363.8" r="6.7" fill="url(#ng_yg)" stroke="#8b9c60" stroke-width="1"/>
<ellipse cx="360" cy="367" rx="4.5" ry="2.3" fill="#fff" opacity="0.28"/>
<ellipse cx="337" cy="380" rx="7.2" ry="7" fill="#3c3c34" opacity="0.8"/>
<circle cx="336.8" cy="378.8" r="6.7" fill="url(#ng_pk)" stroke="#a56360" stroke-width="1"/>
<ellipse cx="336.8" cy="382" rx="4.5" ry="2.3" fill="#fff" opacity="0.28"/>
<ellipse cx="361" cy="384.5" rx="7.2" ry="7" fill="#3c3c34" opacity="0.8"/>
<circle cx="360.8" cy="383.3" r="6.7" fill="url(#ng_gr)" stroke="#5f9a5e" stroke-width="1"/>
<ellipse cx="360.8" cy="386.5" rx="4.5" ry="2.3" fill="#fff" opacity="0.28"/>
<ellipse cx="381" cy="387" rx="7.2" ry="7" fill="#3c3c34" opacity="0.8"/>
<circle cx="380.8" cy="385.8" r="6.7" fill="url(#ng_yg)" stroke="#8b9c60" stroke-width="1"/>
<ellipse cx="380.8" cy="389" rx="4.5" ry="2.3" fill="#fff" opacity="0.28"/>
<ellipse cx="281.5" cy="395.5" rx="7.2" ry="7" fill="#3c3c34" opacity="0.8"/>
<circle cx="281.3" cy="394.3" r="6.7" fill="url(#ng_pu)" stroke="#5c5a9c" stroke-width="1"/>
<ellipse cx="281.3" cy="397.5" rx="4.5" ry="2.3" fill="#fff" opacity="0.28"/>
<ellipse cx="302.2" cy="391.7" rx="7.2" ry="7" fill="#3c3c34" opacity="0.8"/>
<circle cx="302" cy="390.5" r="6.7" fill="url(#ng_dg)" stroke="#2f7a3a" stroke-width="1"/>
<ellipse cx="302" cy="393.7" rx="4.5" ry="2.3" fill="#fff" opacity="0.28"/>
<ellipse cx="314.7" cy="400.7" rx="7.2" ry="7" fill="#3c3c34" opacity="0.8"/>
<circle cx="314.5" cy="399.5" r="6.7" fill="url(#ng_te)" stroke="#4f8f82" stroke-width="1"/>
<ellipse cx="314.5" cy="402.7" rx="4.5" ry="2.3" fill="#fff" opacity="0.28"/>
<ellipse cx="331.5" cy="405.7" rx="7.2" ry="7" fill="#3c3c34" opacity="0.8"/>
<circle cx="331.3" cy="404.5" r="6.7" fill="url(#ng_pu)" stroke="#5c5a9c" stroke-width="1"/>
<ellipse cx="331.3" cy="407.7" rx="4.5" ry="2.3" fill="#fff" opacity="0.28"/>
<ellipse cx="376" cy="403.2" rx="7.2" ry="7" fill="#3c3c34" opacity="0.8"/>
<circle cx="375.8" cy="402" r="6.7" fill="url(#ng_ta)" stroke="#97895c" stroke-width="1"/>
<ellipse cx="375.8" cy="405.2" rx="4.5" ry="2.3" fill="#fff" opacity="0.28"/>
<ellipse cx="283.2" cy="411.7" rx="7.2" ry="7" fill="#3c3c34" opacity="0.8"/>
<circle cx="283" cy="410.5" r="6.7" fill="url(#ng_yg)" stroke="#8b9c60" stroke-width="1"/>
<ellipse cx="283" cy="413.7" rx="4.5" ry="2.3" fill="#fff" opacity="0.28"/>
<ellipse cx="296" cy="420.7" rx="7.2" ry="7" fill="#3c3c34" opacity="0.8"/>
<circle cx="295.8" cy="419.5" r="6.7" fill="url(#ng_gr)" stroke="#5f9a5e" stroke-width="1"/>
<ellipse cx="295.8" cy="422.7" rx="4.5" ry="2.3" fill="#fff" opacity="0.28"/>
<ellipse cx="316.5" cy="425" rx="7.2" ry="7" fill="#3c3c34" opacity="0.8"/>
<circle cx="316.3" cy="423.8" r="6.7" fill="url(#ng_gr)" stroke="#5f9a5e" stroke-width="1"/>
<ellipse cx="316.3" cy="427" rx="4.5" ry="2.3" fill="#fff" opacity="0.28"/>
<ellipse cx="352" cy="420.7" rx="7.2" ry="7" fill="#3c3c34" opacity="0.8"/>
<circle cx="351.8" cy="419.5" r="6.7" fill="url(#ng_ta)" stroke="#97895c" stroke-width="1"/>
<ellipse cx="351.8" cy="422.7" rx="4.5" ry="2.3" fill="#fff" opacity="0.28"/>
<ellipse cx="332" cy="438.2" rx="7.2" ry="7" fill="#3c3c34" opacity="0.8"/>
<circle cx="331.8" cy="437" r="6.7" fill="url(#ng_ta)" stroke="#97895c" stroke-width="1"/>
<ellipse cx="331.8" cy="440.2" rx="4.5" ry="2.3" fill="#fff" opacity="0.28"/>
<ellipse cx="272.7" cy="438.2" rx="7.2" ry="7" fill="#3c3c34" opacity="0.8"/>
<circle cx="272.5" cy="437" r="6.7" fill="url(#ng_pu)" stroke="#5c5a9c" stroke-width="1"/>
<ellipse cx="272.5" cy="440.2" rx="4.5" ry="2.3" fill="#fff" opacity="0.28"/>
<ellipse cx="301.5" cy="445.5" rx="7.2" ry="7" fill="#3c3c34" opacity="0.8"/>
<circle cx="301.3" cy="444.3" r="6.7" fill="url(#ng_gr)" stroke="#5f9a5e" stroke-width="1"/>
<ellipse cx="301.3" cy="447.5" rx="4.5" ry="2.3" fill="#fff" opacity="0.28"/>
<ellipse cx="279.7" cy="461.2" rx="7.2" ry="7" fill="#3c3c34" opacity="0.8"/>
<circle cx="279.5" cy="460" r="6.7" fill="url(#ng_te)" stroke="#4f8f82" stroke-width="1"/>
<ellipse cx="279.5" cy="463.2" rx="4.5" ry="2.3" fill="#fff" opacity="0.28"/>
<ellipse cx="314" cy="462.5" rx="7.2" ry="7" fill="#3c3c34" opacity="0.8"/>
<circle cx="313.8" cy="461.3" r="6.7" fill="url(#ng_pu)" stroke="#5c5a9c" stroke-width="1"/>
<ellipse cx="313.8" cy="464.5" rx="4.5" ry="2.3" fill="#fff" opacity="0.28"/>
</g>
<text class="nl" x="131" y="326.5" font-size="4.4">RBFOX2</text>
<text class="nl" x="152" y="324.8" font-size="4.4">EPB41</text>
<text class="nl" x="177.5" y="326" font-size="4.4">NF2</text>
<text class="nl" x="196" y="340" font-size="4.4">MAGI1</text>
<text class="nl" x="129" y="342" font-size="4.4">ARHGAP17</text>
<text class="nl" x="148" y="347" font-size="4.4">ARHGEF11</text>
<text class="nl" x="118" y="356" font-size="4.4">MYL6</text>
<text class="nl" x="92.5" y="351" font-size="4.4">EXOC7</text>
<text class="nl" x="163" y="356.5" font-size="4.4">CD44</text>
<text class="nl" x="180" y="364" font-size="4.4">FN1</text>
<text class="nl" x="196" y="367" font-size="4.4">ACTN4</text>
<text class="nl" x="220" y="355.5" font-size="4.4">SPTAN1</text>
<text class="nl" x="103.5" y="370.5" font-size="4.4">PKD1</text>
<text class="nl" x="120.5" y="383" font-size="4.4">PRC1</text>
<text class="nl" x="156" y="385" font-size="4.4">RAC1</text>
<text class="nl" x="194.5" y="384.5" font-size="4.4">VEGFA</text>
<text class="nl" x="215" y="388" font-size="4.4">PSMB3</text>
<text class="nl" x="98" y="397" font-size="4.4">TSC2</text>
<text class="nl" x="116" y="405.5" font-size="4.4">ECT2</text>
<text class="nl" x="136.5" y="406.5" font-size="4.4">DOCK3</text>
<text class="nl" x="156" y="405.5" font-size="4.4">CRK</text>
<text class="nl" x="182" y="404.5" font-size="4.4">FGFR2</text>
<text class="nl" x="200.5" y="413.5" font-size="4.4">FGFR3</text>
<text class="nl" x="215" y="418.5" font-size="4.4">CSNK1A1</text>
<text class="nl" x="94" y="415.5" font-size="4.4">IKBKB</text>
<text class="nl" x="110" y="424.5" font-size="4.4">USP21</text>
<text class="nl" x="125.5" y="431.5" font-size="4.4">BAIAP2</text>
<text class="nl" x="157.5" y="436.5" font-size="4.4">CTNND1</text>
<text class="nl" x="180" y="432" font-size="4.4">FGFR1</text>
<text class="nl" x="139" y="443" font-size="4.4">ENAH</text>
<text class="nl" x="114.5" y="449.5" font-size="4.4">NUMA1</text>
<text class="nl" x="144" y="477.5" font-size="4.4">CTTN</text>
<text class="nl" x="166" y="479.5" font-size="4.4">DNM2</text>
<text class="nl" x="156.5" y="496.5" font-size="4.4">DNM1</text>
<text class="nl" x="185.5" y="497" font-size="4.4">AP3S1</text>
<text class="nl" x="138.5" y="501.5" font-size="4.4">GSN</text>
<text class="nl" x="168.5" y="508.5" font-size="4.4">FNBP1</text>
<text class="nl" x="150.5" y="522.5" font-size="4.4">PICALM</text>
<text class="nl" x="322" y="359.5" font-size="4.4">SRSF6</text>
<text class="nl" x="366" y="358" font-size="4.4">CARM1</text>
<text class="nl" x="343" y="373" font-size="4.4">ACLY</text>
<text class="nl" x="367" y="376.5" font-size="4.4">HNRNPA3</text>
<text class="nl" x="387" y="380" font-size="4.4">SUGP2</text>
<text class="nl" x="288" y="388" font-size="4.4">USO1</text>
<text class="nl" x="308.5" y="384" font-size="4.4">HNRNPL</text>
<text class="nl" x="320" y="393.5" font-size="4.4">HNRNPR</text>
<text class="nl" x="337.5" y="398.5" font-size="4.4">TRA2B</text>
<text class="nl" x="381.5" y="395.5" font-size="4.4">HNRNPH3</text>
<text class="nl" x="289.5" y="404" font-size="4.4">CSNK1D</text>
<text class="nl" x="302" y="413" font-size="4.4">AKAP9</text>
<text class="nl" x="322.5" y="417.5" font-size="4.4">EIF4G1</text>
<text class="nl" x="358" y="413" font-size="4.4">U2AF1</text>
<text class="nl" x="338.5" y="431" font-size="4.4">UPF3B</text>
<text class="nl" x="278.5" y="430.5" font-size="4.4">RPS24</text>
<text class="nl" x="307.5" y="438.5" font-size="4.4">RPL21</text>
<text class="nl" x="286" y="454" font-size="4.4">LAS1L</text>
<text class="nl" x="320" y="455.5" font-size="4.4">POM121C</text>
<ellipse cx="151.5" cy="396.5" rx="104.5" ry="79.5" fill="none" stroke="#222" stroke-width="1.15" stroke-dasharray="4.4 3.4"/>
<ellipse cx="156.5" cy="507" rx="47.8" ry="37.2" fill="none" stroke="#222" stroke-width="1.15" stroke-dasharray="4.4 3.4"/>
<ellipse cx="330.2" cy="408.6" rx="85.6" ry="54.8" transform="rotate(-31.5 330.2 408.6)" fill="none" stroke="#222" stroke-width="1.15" stroke-dasharray="4.4 3.4"/>
<path d="M385 353 L395.5 344.8 L397.2 348.2 Z" fill="#e60012"/>
<text class="sb" x="35" y="299.5" font-size="11.85">Oncogene</text>
<text class="sb" x="35" y="308.8" font-size="11.89">Cell cycle</text>
<text class="sb" x="35" y="319.3" font-size="11.91">Cell migration</text>
<text class="sb" x="372.5" y="320.5" font-size="11.97">Methylation</text>
<text class="sb" x="372.5" y="329.6" font-size="12.09">mRNA splicing</text>
<text class="sb" x="69.5" y="530.8" font-size="11.86">Exosome</text>
</g>
<g id="panelGH">
<defs>
<filter id="gb1" filterUnits="userSpaceOnUse" x="300" y="1100" width="720" height="200"><feGaussianBlur stdDeviation="2.5 2.2"/></filter>
<filter id="gb2" filterUnits="userSpaceOnUse" x="300" y="1100" width="720" height="200"><feGaussianBlur stdDeviation="3.4 3.2"/></filter>
<filter id="gb3" filterUnits="userSpaceOnUse" x="300" y="1100" width="720" height="200"><feGaussianBlur stdDeviation="4.5 5"/></filter>
<filter id="gb4" filterUnits="userSpaceOnUse" x="300" y="1100" width="720" height="200"><feGaussianBlur stdDeviation="3.6 4.2"/></filter>
<filter id="gb5" filterUnits="userSpaceOnUse" x="300" y="1100" width="720" height="200"><feGaussianBlur stdDeviation="2 6"/></filter>
<clipPath id="cg1"><rect x="328" y="1136.2" width="205.6" height="53.2"/></clipPath>
<clipPath id="cg2"><rect x="328" y="1192.5" width="205.6" height="57.7"/></clipPath>
<clipPath id="ch1"><rect x="694.7" y="1131.9" width="187" height="65.1"/></clipPath>
<clipPath id="ch2"><rect x="694.7" y="1201.5" width="187" height="52.2"/></clipPath>
<linearGradient id="gelH" x1="0" y1="0" x2="0" y2="1"><stop offset="0" stop-color="#404040"/><stop offset="1" stop-color="#2e2e2e"/></linearGradient>
<linearGradient id="gelG" x1="0" y1="0" x2="0" y2="1"><stop offset="0" stop-color="#303030"/><stop offset="1" stop-color="#272727"/></linearGradient>
</defs>
<rect x="327.4" y="1135.8" width="206.6" height="53.8" fill="url(#gelG)"/>
<g clip-path="url(#cg1)">
<g filter="url(#gb5)">
<rect x="369.8" y="1136" width="32" height="54" fill="#fff" opacity="0.07"/>
<rect x="409.7" y="1136" width="32" height="54" fill="#fff" opacity="0.07"/>
<rect x="449.6" y="1136" width="32" height="54" fill="#fff" opacity="0.07"/>
<rect x="490" y="1136" width="32" height="54" fill="#fff" opacity="0.07"/>
</g>
<g filter="url(#gb3)">
<ellipse cx="385.8" cy="1159" rx="17.5" ry="17" fill="#fff" opacity="0.55"/>
<ellipse cx="425.7" cy="1159" rx="17.5" ry="17" fill="#fff" opacity="0.55"/>
<ellipse cx="465.6" cy="1159" rx="17.5" ry="17" fill="#fff" opacity="0.55"/>
<ellipse cx="506" cy="1159" rx="17.5" ry="17" fill="#fff" opacity="0.55"/>
</g>
<g filter="url(#gb1)">
<path d="M372.3 1156.6 Q379.05 1159 385.8 1155.88 Q392.55 1159 399.3 1156.6" fill="none" stroke="#ffffff" stroke-width="9" stroke-linecap="round" opacity="0.75"/>
<path d="M372.3 1169.4 Q379.05 1171.4 385.8 1168.8 Q392.55 1171.4 399.3 1169.4" fill="none" stroke="#ffffff" stroke-width="7.6" stroke-linecap="round" opacity="0.7"/>
<path d="M412.2 1156.6 Q418.95 1159 425.7 1155.88 Q432.45 1159 439.2 1156.6" fill="none" stroke="#ffffff" stroke-width="9" stroke-linecap="round" opacity="0.95"/>
<path d="M412.2 1169.4 Q418.95 1171.4 425.7 1168.8 Q432.45 1171.4 439.2 1169.4" fill="none" stroke="#ffffff" stroke-width="7.6" stroke-linecap="round" opacity="0.62"/>
<path d="M452.1 1156.6 Q458.85 1159 465.6 1155.88 Q472.35 1159 479.1 1156.6" fill="none" stroke="#ffffff" stroke-width="9" stroke-linecap="round" opacity="0.6"/>
<path d="M452.1 1169.4 Q458.85 1171.4 465.6 1168.8 Q472.35 1171.4 479.1 1169.4" fill="none" stroke="#ffffff" stroke-width="7.6" stroke-linecap="round" opacity="0.95"/>
<path d="M492.5 1156.6 Q499.25 1159 506 1155.88 Q512.75 1159 519.5 1156.6" fill="none" stroke="#ffffff" stroke-width="9" stroke-linecap="round" opacity="0.9"/>
<path d="M492.5 1169.4 Q499.25 1171.4 506 1168.8 Q512.75 1171.4 519.5 1169.4" fill="none" stroke="#ffffff" stroke-width="7.6" stroke-linecap="round" opacity="0.7"/>
</g>
<g filter="url(#gb2)">
<path d="M336 1141.8 Q346 1141.8 356 1141.8" fill="none" stroke="#ffffff" stroke-width="6.5" stroke-linecap="round" opacity="0.34"/>
<path d="M336 1160.6 Q346 1160.6 356 1160.6" fill="none" stroke="#ffffff" stroke-width="6.5" stroke-linecap="round" opacity="0.27"/>
<path d="M336 1182.8 Q346 1182.8 356 1182.8" fill="none" stroke="#ffffff" stroke-width="6.5" stroke-linecap="round" opacity="0.34"/>
</g>
</g>
<rect x="327.4" y="1192.3" width="206.6" height="58.1" fill="url(#gelG)"/>
<g clip-path="url(#cg2)">
<g filter="url(#gb5)">
<rect x="369.8" y="1192" width="32" height="59" fill="#fff" opacity="0.07"/>
<rect x="409.7" y="1192" width="32" height="59" fill="#fff" opacity="0.07"/>
<rect x="449.6" y="1192" width="32" height="59" fill="#fff" opacity="0.07"/>
<rect x="490" y="1192" width="32" height="59" fill="#fff" opacity="0.07"/>
</g>
<g filter="url(#gb4)">
<ellipse cx="385.8" cy="1228.5" rx="16" ry="10.5" fill="#fff" opacity="0.32"/>
<ellipse cx="425.7" cy="1228.5" rx="16" ry="10.5" fill="#fff" opacity="0.32"/>
<ellipse cx="465.6" cy="1228.5" rx="16" ry="10.5" fill="#fff" opacity="0.32"/>
<ellipse cx="506" cy="1228.5" rx="16" ry="10.5" fill="#fff" opacity="0.32"/>
</g>
<g filter="url(#gb2)">
<path d="M336 1202.7 Q346 1202.7 356 1202.7" fill="none" stroke="#ffffff" stroke-width="7.5" stroke-linecap="round" opacity="0.32"/>
<path d="M336 1226.4 Q346 1226.4 356 1226.4" fill="none" stroke="#ffffff" stroke-width="7.5" stroke-linecap="round" opacity="0.28"/>
</g>
</g>
<text class="sb" x="542.9" y="1155.3" font-size="17.38">CARM1FL</text>
<text class="sb" x="542.9" y="1177.7" font-size="17.38">CARM1<tspan class="tri" dy="1.04" font-size="17.38">△</tspan><tspan dy="-1.04">E15</tspan></text>
<text class="sb" x="542.9" y="1229.8" font-size="17.38">GAPDH</text>
<text class="sb" x="389" y="1132" font-size="17" transform="rotate(-50 389 1132)">H446</text>
<text class="sb" x="426.5" y="1132" font-size="17" transform="rotate(-50 426.5 1132)">H446DDP</text>
<text class="sb" x="466.5" y="1132" font-size="17" transform="rotate(-50 466.5 1132)">H69</text>
<text class="sb" x="505.5" y="1132" font-size="17" transform="rotate(-50 505.5 1132)">H69AR</text>
<rect x="694.4" y="1131.6" width="187.6" height="65.6" fill="url(#gelH)"/>
<g clip-path="url(#ch1)">
<g filter="url(#gb3)">
<ellipse cx="727.4" cy="1166" rx="25" ry="24" fill="#fff" opacity="0.3"/>
<ellipse cx="786.9" cy="1166" rx="25" ry="24" fill="#fff" opacity="0.3"/>
<ellipse cx="847.3" cy="1166" rx="25" ry="24" fill="#fff" opacity="0.22"/>
</g>
<g filter="url(#gb2)">
<path d="M707.4 1157 Q717.4 1160.2 727.4 1156.04 Q737.4 1160.2 747.4 1157" fill="none" stroke="#ffffff" stroke-width="17" stroke-linecap="round" opacity="0.5"/>
<path d="M707.4 1179.6 Q717.4 1181.6 727.4 1179 Q737.4 1181.6 747.4 1179.6" fill="none" stroke="#ffffff" stroke-width="11" stroke-linecap="round" opacity="0.36"/>
<path d="M766.9 1157 Q776.9 1160.2 786.9 1156.04 Q796.9 1160.2 806.9 1157" fill="none" stroke="#ffffff" stroke-width="17" stroke-linecap="round" opacity="0.48"/>
<path d="M766.9 1179.6 Q776.9 1181.6 786.9 1179 Q796.9 1181.6 806.9 1179.6" fill="none" stroke="#ffffff" stroke-width="11" stroke-linecap="round" opacity="0.36"/>
<path d="M827.3 1157 Q837.3 1160.2 847.3 1156.04 Q857.3 1160.2 867.3 1157" fill="none" stroke="#ffffff" stroke-width="17" stroke-linecap="round" opacity="0.06"/>
<path d="M827.3 1179.6 Q837.3 1181.6 847.3 1179 Q857.3 1181.6 867.3 1179.6" fill="none" stroke="#ffffff" stroke-width="13" stroke-linecap="round" opacity="0.66"/>
</g>
</g>
<rect x="694.4" y="1201.2" width="187.6" height="52.7" fill="url(#gelH)"/>
<g clip-path="url(#ch2)">
<g filter="url(#gb3)">
<ellipse cx="727.4" cy="1222" rx="25" ry="14" fill="#fff" opacity="0.3"/>
<ellipse cx="786.9" cy="1222" rx="25" ry="14" fill="#fff" opacity="0.3"/>
<ellipse cx="847.3" cy="1222" rx="25" ry="14" fill="#fff" opacity="0.3"/>
</g>
<g filter="url(#gb2)">
<path d="M706.4 1221.5 Q716.9 1225.1 727.4 1220.42 Q737.9 1225.1 748.4 1221.5" fill="none" stroke="#ffffff" stroke-width="19" stroke-linecap="round" opacity="0.62"/>
<path d="M765.9 1221.5 Q776.4 1225.1 786.9 1220.42 Q797.4 1225.1 807.9 1221.5" fill="none" stroke="#ffffff" stroke-width="19" stroke-linecap="round" opacity="0.62"/>
<path d="M826.3 1221.5 Q836.8 1225.1 847.3 1220.42 Q857.8 1225.1 868.3 1221.5" fill="none" stroke="#ffffff" stroke-width="19" stroke-linecap="round" opacity="0.62"/>
</g>
</g>
<text class="sb" x="891.2" y="1161.8" font-size="16.97">CARM1FL</text>
<text class="sb" x="891.2" y="1186.5" font-size="16.97">CARM1<tspan class="tri" dy="1.02" font-size="16.97">△</tspan><tspan dy="-1.02">E15</tspan></text>
<text class="sb" x="891.2" y="1233.4" font-size="16.97">GAPDH</text>
<text class="sb" x="721.5" y="1126" font-size="16.6" transform="rotate(-33 721.5 1126)">H69AR</text>
<text class="sb" x="783" y="1126" font-size="16.6" transform="rotate(-33 783 1126)">H69AR-Ctrl</text>
<text class="sb" x="848.5" y="1126" font-size="16.6" transform="rotate(-33 848.5 1126)">H69AR-ESRP1</text>
</g>
</svg>
</body>
</html>
